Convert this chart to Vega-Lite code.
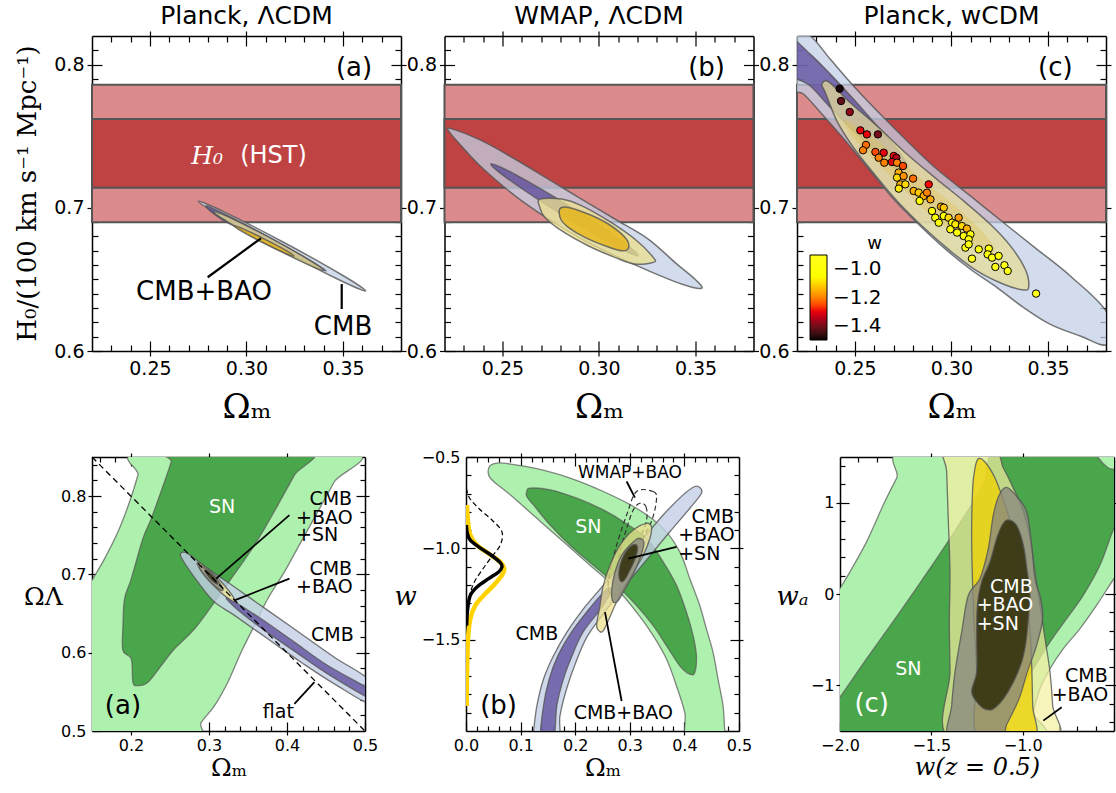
{
"$schema": "https://vega.github.io/schema/vega-lite/v6.json",
"background": "white",
"padding": {"left": 14, "top": 4, "right": 2, "bottom": 2},
"config": {
  "view": {"stroke": null},
  "font": "DejaVu Sans",
  "axis": {"grid": false, "tickColor": "black", "tickWidth": 1.2, "domainColor": "black", "domainWidth": 1.5, "labelColor": "black", "labelFont": "DejaVu Sans", "titleColor": "black", "titleFontWeight": "normal", "labelOverlap": false, "labelFlush": false, "zindex": 2},
  "title": {"font": "DejaVu Sans", "fontWeight": "normal", "color": "black"}
},
"datasets": {
  "bands": [{"k":"o","y":0.69,"y2":0.786},{"k":"i","y":0.714,"y2":0.762}],
  "rules": [
    {"p":"ta","k":"l","x":0.2799,"y":0.6515,"x2":0.3075,"y2":0.6787},
    {"p":"ta","k":"l","x":0.3493,"y":0.6293,"x2":0.3493,"y2":0.6468},
    {"p":"ba","k":"l","x":0.4031,"y":0.7757,"x2":0.3092,"y2":0.6946},
    {"p":"ba","k":"l","x":0.4031,"y":0.6946,"x2":0.3327,"y2":0.6669},
    {"p":"ba","k":"l","x":0.4095,"y":0.5346,"x2":0.4351,"y2":0.5623},
    {"p":"ba","k":"d","x":0.15,"y":0.85,"x2":0.5,"y2":0.5},
    {"p":"bb","k":"l","x":0.2942,"y":-0.634,"x2":0.3094,"y2":-0.722},
    {"p":"bb","k":"l","x":0.3855,"y":-0.9917,"x2":0.2972,"y2":-1.056},
    {"p":"bb","k":"l","x":0.285,"y":-1.8358,"x2":0.2546,"y2":-1.3495},
    {"p":"bc","k":"l","x":-0.8869,"y":-1.3864,"x2":-0.7865,"y2":-1.2399}
  ],
  "txt": [
    {"p":"ta","k":"lab","x":0.3557,"y":0.798,"t":"(a)"},
    {"p":"ta","k":"h0","x":0.2796,"y":0.7362,"t":"H₀"},
    {"p":"ta","k":"hst","x":0.314,"y":0.7362,"t":"(HST)"},
    {"p":"ta","k":"big","x":0.278,"y":0.641,"t":"CMB+BAO"},
    {"p":"ta","k":"big","x":0.35,"y":0.617,"t":"CMB"},
    {"p":"tb","k":"lab","x":0.3557,"y":0.798,"t":"(b)"},
    {"p":"tc","k":"lab","x":0.3538,"y":0.798,"t":"(c)"},
    {"p":"ba","k":"wC","x":0.3169,"y":0.7864,"t":"SN"},
    {"p":"ba","k":"annL","x":0.4287,"y":0.7958,"t":"CMB"},
    {"p":"ba","k":"annL","x":0.4116,"y":0.7727,"t":"+BAO"},
    {"p":"ba","k":"annL","x":0.4116,"y":0.7501,"t":"+SN"},
    {"p":"ba","k":"annL","x":0.4287,"y":0.7074,"t":"CMB"},
    {"p":"ba","k":"annL","x":0.4116,"y":0.684,"t":"+BAO"},
    {"p":"ba","k":"annL","x":0.4308,"y":0.6229,"t":"CMB"},
    {"p":"ba","k":"annL","x":0.369,"y":0.5248,"t":"flat"},
    {"p":"ba","k":"lab","x":0.1897,"y":0.5324,"t":"(a)"},
    {"p":"bb","k":"wC","x":0.2241,"y":-0.8817,"t":"SN"},
    {"p":"bb","k":"wm","x":0.3002,"y":-0.588,"t":"WMAP+BAO"},
    {"p":"bb","k":"annL","x":0.4129,"y":-0.8266,"t":"CMB"},
    {"p":"bb","k":"annL","x":0.3886,"y":-0.9275,"t":"+BAO"},
    {"p":"bb","k":"annL","x":0.3886,"y":-1.0284,"t":"+SN"},
    {"p":"bb","k":"annC","x":0.1297,"y":-1.4688,"t":"CMB"},
    {"p":"bb","k":"annC","x":0.2881,"y":-1.9,"t":"CMB+BAO"},
    {"p":"bb","k":"lab","x":0.0597,"y":-1.8633,"t":"(b)"},
    {"p":"bc","k":"wL","x":-1.1788,"y":0.0788,"t":"CMB"},
    {"p":"bc","k":"wL","x":-1.2518,"y":-0.1227,"t":"+BAO"},
    {"p":"bc","k":"wL","x":-1.2518,"y":-0.3242,"t":"+SN"},
    {"p":"bc","k":"wC","x":-1.6259,"y":-0.8187,"t":"SN"},
    {"p":"bc","k":"annL","x":-0.7682,"y":-0.8993,"t":"CMB"},
    {"p":"bc","k":"annL","x":-0.8412,"y":-1.1044,"t":"+BAO"},
    {"p":"bc","k":"labw","x":-1.8266,"y":-1.203,"t":"(c)"}
  ],
  "pts": [
    {"x":0.2421,"y":0.7832,"w":-1.49},{"x":0.2428,"y":0.7746,"w":-1.42},{"x":0.2473,"y":0.7669,"w":-1.38},{"x":0.2528,"y":0.7541,"w":-1.3},{"x":0.2562,"y":0.7513,"w":-1.3},
    {"x":0.2619,"y":0.7513,"w":-1.4},{"x":0.2557,"y":0.7439,"w":-1.22},{"x":0.2542,"y":0.7402,"w":-1.2},{"x":0.2606,"y":0.739,"w":-1.25},{"x":0.2649,"y":0.7385,"w":-1.3},
    {"x":0.2623,"y":0.735,"w":-1.2},{"x":0.2652,"y":0.7315,"w":-1.2},{"x":0.2701,"y":0.7362,"w":-1.28},{"x":0.2714,"y":0.735,"w":-1.35},{"x":0.2692,"y":0.732,"w":-1.3},
    {"x":0.2718,"y":0.7315,"w":-1.2},{"x":0.2749,"y":0.7292,"w":-1.25},{"x":0.2726,"y":0.7246,"w":-1.15},{"x":0.2718,"y":0.7211,"w":-1.1},{"x":0.2752,"y":0.7222,"w":-1.18},
    {"x":0.2735,"y":0.7164,"w":-1.15},{"x":0.2727,"y":0.7134,"w":-1.08},{"x":0.2761,"y":0.7164,"w":-1.1},{"x":0.2801,"y":0.7204,"w":-1.22},{"x":0.2804,"y":0.7118,"w":-1.15},
    {"x":0.283,"y":0.7106,"w":-1.12},{"x":0.2856,"y":0.7083,"w":-1.15},{"x":0.2835,"y":0.7048,"w":-1.05},{"x":0.2882,"y":0.7164,"w":-1.28},{"x":0.2873,"y":0.7106,"w":-1.2},
    {"x":0.2891,"y":0.7059,"w":-1.16},{"x":0.2899,"y":0.6978,"w":-1.02},{"x":0.2916,"y":0.6931,"w":-1.03},{"x":0.2934,"y":0.6896,"w":-1.0},{"x":0.2946,"y":0.7008,"w":-1.15},
    {"x":0.296,"y":0.7001,"w":-1.12},{"x":0.296,"y":0.6943,"w":-1.05},{"x":0.2985,"y":0.6931,"w":-1.1},{"x":0.3003,"y":0.6896,"w":-1.03},{"x":0.2994,"y":0.685,"w":-1.0},
    {"x":0.302,"y":0.6885,"w":-1.08},{"x":0.3037,"y":0.6931,"w":-1.17},{"x":0.3054,"y":0.6873,"w":-1.1},{"x":0.308,"y":0.6855,"w":-1.15},{"x":0.3029,"y":0.6827,"w":-1.02},
    {"x":0.3063,"y":0.6803,"w":-0.98},{"x":0.3098,"y":0.6815,"w":-1.03},{"x":0.3089,"y":0.678,"w":-1.0},{"x":0.3072,"y":0.6722,"w":-0.97},{"x":0.3089,"y":0.6745,"w":-0.94},
    {"x":0.3141,"y":0.671,"w":-0.97},{"x":0.3106,"y":0.6645,"w":-0.92},{"x":0.3193,"y":0.6715,"w":-1.02},{"x":0.3187,"y":0.6675,"w":-1.0},{"x":0.321,"y":0.6652,"w":-0.97},
    {"x":0.3244,"y":0.6664,"w":-1.03},{"x":0.3227,"y":0.6587,"w":-0.95},{"x":0.3274,"y":0.6599,"w":-0.95},{"x":0.3291,"y":0.6559,"w":-0.95},{"x":0.3438,"y":0.6401,"w":-0.92}
  ],
  "poly": [
    {"id":"ta_cmb2","i":0,"x":0.3617,"y":0.642},{"id":"ta_cmb2","i":1,"x":0.3497,"y":0.6529},{"id":"ta_cmb2","i":2,"x":0.3194,"y":0.6758},{"id":"ta_cmb2","i":3,"x":0.2884,"y":0.6972},{"id":"ta_cmb2","i":4,"x":0.275,"y":0.7046},{"id":"ta_cmb2","i":5,"x":0.2871,"y":0.6937},{"id":"ta_cmb2","i":6,"x":0.3174,"y":0.6709},{"id":"ta_cmb2","i":7,"x":0.3484,"y":0.6494},
    {"id":"ta_cmb1","i":0,"x":0.3412,"y":0.6559},{"id":"ta_cmb1","i":1,"x":0.3325,"y":0.6636},{"id":"ta_cmb1","i":2,"x":0.3107,"y":0.6801},{"id":"ta_cmb1","i":3,"x":0.2885,"y":0.6957},{"id":"ta_cmb1","i":4,"x":0.279,"y":0.7013},{"id":"ta_cmb1","i":5,"x":0.2877,"y":0.6915},{"id":"ta_cmb1","i":6,"x":0.3095,"y":0.6771},{"id":"ta_cmb1","i":7,"x":0.3317,"y":0.6615},
    {"id":"ta_cb2","i":0,"x":0.3396,"y":0.6566},{"id":"ta_cb2","i":1,"x":0.3319,"y":0.664},{"id":"ta_cb2","i":2,"x":0.3123,"y":0.679},{"id":"ta_cb2","i":3,"x":0.2921,"y":0.6927},{"id":"ta_cb2","i":4,"x":0.2832,"y":0.6971},{"id":"ta_cb2","i":5,"x":0.2909,"y":0.6896},{"id":"ta_cb2","i":6,"x":0.3106,"y":0.6746},{"id":"ta_cb2","i":7,"x":0.3308,"y":0.661},
    {"id":"ta_cb1","i":0,"x":0.3246,"y":0.6663},{"id":"ta_cb1","i":1,"x":0.3204,"y":0.6703},{"id":"ta_cb1","i":2,"x":0.3096,"y":0.678},{"id":"ta_cb1","i":3,"x":0.2985,"y":0.6851},{"id":"ta_cb1","i":4,"x":0.2935,"y":0.6873},{"id":"ta_cb1","i":5,"x":0.2978,"y":0.6834},{"id":"ta_cb1","i":6,"x":0.3086,"y":0.6756},{"id":"ta_cb1","i":7,"x":0.3197,"y":0.6685},
    {"id":"tb_cmb2","i":0,"x":0.2228,"y":0.7555},{"id":"tb_cmb2","i":1,"x":0.2392,"y":0.7469},{"id":"tb_cmb2","i":2,"x":0.2564,"y":0.7341},{"id":"tb_cmb2","i":3,"x":0.2737,"y":0.7201},{"id":"tb_cmb2","i":4,"x":0.2909,"y":0.7061},{"id":"tb_cmb2","i":5,"x":0.3082,"y":0.6922},{"id":"tb_cmb2","i":6,"x":0.3255,"y":0.6782},{"id":"tb_cmb2","i":7,"x":0.3393,"y":0.6619},{"id":"tb_cmb2","i":8,"x":0.3496,"y":0.6503},{"id":"tb_cmb2","i":9,"x":0.3531,"y":0.6438},{"id":"tb_cmb2","i":10,"x":0.3427,"y":0.6468},{"id":"tb_cmb2","i":11,"x":0.3255,"y":0.6561},{"id":"tb_cmb2","i":12,"x":0.3082,"y":0.6666},{"id":"tb_cmb2","i":13,"x":0.2909,"y":0.6782},{"id":"tb_cmb2","i":14,"x":0.2737,"y":0.6922},{"id":"tb_cmb2","i":15,"x":0.2564,"y":0.7085},{"id":"tb_cmb2","i":16,"x":0.2392,"y":0.7283},{"id":"tb_cmb2","i":17,"x":0.2271,"y":0.7457},{"id":"tb_cmb2","i":18,"x":0.2227,"y":0.7527},
    {"id":"tb_cmb1","i":0,"x":0.3203,"y":0.6666},{"id":"tb_cmb1","i":1,"x":0.3102,"y":0.6783},{"id":"tb_cmb1","i":2,"x":0.2837,"y":0.7019},{"id":"tb_cmb1","i":3,"x":0.2563,"y":0.7235},{"id":"tb_cmb1","i":4,"x":0.244,"y":0.7306},{"id":"tb_cmb1","i":5,"x":0.2542,"y":0.7189},{"id":"tb_cmb1","i":6,"x":0.2807,"y":0.6953},{"id":"tb_cmb1","i":7,"x":0.3081,"y":0.6737},
    {"id":"tb_cb2","i":0,"x":0.2694,"y":0.7061},{"id":"tb_cb2","i":1,"x":0.2806,"y":0.7061},{"id":"tb_cb2","i":2,"x":0.2909,"y":0.7015},{"id":"tb_cb2","i":3,"x":0.3048,"y":0.691},{"id":"tb_cb2","i":4,"x":0.3185,"y":0.6782},{"id":"tb_cb2","i":5,"x":0.3281,"y":0.6654},{"id":"tb_cb2","i":6,"x":0.3281,"y":0.6619},{"id":"tb_cb2","i":7,"x":0.3185,"y":0.6607},{"id":"tb_cb2","i":8,"x":0.3082,"y":0.6654},{"id":"tb_cb2","i":9,"x":0.2944,"y":0.6735},{"id":"tb_cb2","i":10,"x":0.2806,"y":0.684},{"id":"tb_cb2","i":11,"x":0.2719,"y":0.6934},{"id":"tb_cb2","i":12,"x":0.2694,"y":0.7003},
    {"id":"tb_cb1","i":0,"x":0.2797,"y":0.6992},{"id":"tb_cb1","i":1,"x":0.2841,"y":0.7003},{"id":"tb_cb1","i":2,"x":0.2944,"y":0.6957},{"id":"tb_cb1","i":3,"x":0.3048,"y":0.6887},{"id":"tb_cb1","i":4,"x":0.3134,"y":0.6794},{"id":"tb_cb1","i":5,"x":0.3154,"y":0.6724},{"id":"tb_cb1","i":6,"x":0.3117,"y":0.67},{"id":"tb_cb1","i":7,"x":0.3031,"y":0.6735},{"id":"tb_cb1","i":8,"x":0.2927,"y":0.6794},{"id":"tb_cb1","i":9,"x":0.2841,"y":0.6864},{"id":"tb_cb1","i":10,"x":0.2802,"y":0.6922},
    {"id":"tc_cmb2","i":0,"x":0.2165,"y":0.8247},{"id":"tc_cmb2","i":1,"x":0.2269,"y":0.82},{"id":"tc_cmb2","i":2,"x":0.2373,"y":0.8037},{"id":"tc_cmb2","i":3,"x":0.2493,"y":0.7851},{"id":"tc_cmb2","i":4,"x":0.2632,"y":0.7653},{"id":"tc_cmb2","i":5,"x":0.277,"y":0.7467},{"id":"tc_cmb2","i":6,"x":0.2925,"y":0.7269},{"id":"tc_cmb2","i":7,"x":0.3098,"y":0.7083},{"id":"tc_cmb2","i":8,"x":0.327,"y":0.6896},{"id":"tc_cmb2","i":9,"x":0.3443,"y":0.671},{"id":"tc_cmb2","i":10,"x":0.3615,"y":0.6524},{"id":"tc_cmb2","i":11,"x":0.3805,"y":0.6268},{"id":"tc_cmb2","i":12,"x":0.3805,"y":0.6047},{"id":"tc_cmb2","i":13,"x":0.3667,"y":0.6105},{"id":"tc_cmb2","i":14,"x":0.3512,"y":0.6186},{"id":"tc_cmb2","i":15,"x":0.3374,"y":0.6303},{"id":"tc_cmb2","i":16,"x":0.3236,"y":0.6443},{"id":"tc_cmb2","i":17,"x":0.3098,"y":0.6571},{"id":"tc_cmb2","i":18,"x":0.296,"y":0.6722},{"id":"tc_cmb2","i":19,"x":0.2821,"y":0.6896},{"id":"tc_cmb2","i":20,"x":0.2701,"y":0.7059},{"id":"tc_cmb2","i":21,"x":0.258,"y":0.7257},{"id":"tc_cmb2","i":22,"x":0.2459,"y":0.7455},{"id":"tc_cmb2","i":23,"x":0.2338,"y":0.7641},{"id":"tc_cmb2","i":24,"x":0.2235,"y":0.7793},{"id":"tc_cmb2","i":25,"x":0.2165,"y":0.7851},
    {"id":"tc_cmb1","i":0,"x":0.2165,"y":0.8177},{"id":"tc_cmb1","i":1,"x":0.2269,"y":0.8072},{"id":"tc_cmb1","i":2,"x":0.2373,"y":0.7932},{"id":"tc_cmb1","i":3,"x":0.2493,"y":0.7758},{"id":"tc_cmb1","i":4,"x":0.2614,"y":0.7572},{"id":"tc_cmb1","i":5,"x":0.2718,"y":0.7409},{"id":"tc_cmb1","i":6,"x":0.277,"y":0.7292},{"id":"tc_cmb1","i":7,"x":0.2718,"y":0.7269},{"id":"tc_cmb1","i":8,"x":0.2614,"y":0.7385},{"id":"tc_cmb1","i":9,"x":0.2493,"y":0.7537},{"id":"tc_cmb1","i":10,"x":0.2373,"y":0.77},{"id":"tc_cmb1","i":11,"x":0.2269,"y":0.7851},{"id":"tc_cmb1","i":12,"x":0.2165,"y":0.7944},
    {"id":"tc_cb2","i":0,"x":0.2329,"y":0.7862},{"id":"tc_cb2","i":1,"x":0.2364,"y":0.7879},{"id":"tc_cb2","i":2,"x":0.2476,"y":0.7734},{"id":"tc_cb2","i":3,"x":0.2614,"y":0.7572},{"id":"tc_cb2","i":4,"x":0.277,"y":0.7374},{"id":"tc_cb2","i":5,"x":0.2925,"y":0.7199},{"id":"tc_cb2","i":6,"x":0.3063,"y":0.7048},{"id":"tc_cb2","i":7,"x":0.3201,"y":0.6885},{"id":"tc_cb2","i":8,"x":0.3305,"y":0.6734},{"id":"tc_cb2","i":9,"x":0.3382,"y":0.6571},{"id":"tc_cb2","i":10,"x":0.34,"y":0.645},{"id":"tc_cb2","i":11,"x":0.3374,"y":0.6426},{"id":"tc_cb2","i":12,"x":0.327,"y":0.6466},{"id":"tc_cb2","i":13,"x":0.3132,"y":0.6559},{"id":"tc_cb2","i":14,"x":0.2994,"y":0.6699},{"id":"tc_cb2","i":15,"x":0.2856,"y":0.6862},{"id":"tc_cb2","i":16,"x":0.2718,"y":0.7048},{"id":"tc_cb2","i":17,"x":0.2597,"y":0.7241},{"id":"tc_cb2","i":18,"x":0.2493,"y":0.742},{"id":"tc_cb2","i":19,"x":0.2407,"y":0.7606},{"id":"tc_cb2","i":20,"x":0.2347,"y":0.7804},
    {"id":"tc_cb1","i":0,"x":0.2459,"y":0.7606},{"id":"tc_cb1","i":1,"x":0.2632,"y":0.7455},{"id":"tc_cb1","i":2,"x":0.2804,"y":0.7246},{"id":"tc_cb1","i":3,"x":0.2977,"y":0.7059},{"id":"tc_cb1","i":4,"x":0.3132,"y":0.6873},{"id":"tc_cb1","i":5,"x":0.3218,"y":0.6734},{"id":"tc_cb1","i":6,"x":0.3201,"y":0.6687},{"id":"tc_cb1","i":7,"x":0.3063,"y":0.678},{"id":"tc_cb1","i":8,"x":0.2925,"y":0.6908},{"id":"tc_cb1","i":9,"x":0.2787,"y":0.7083},{"id":"tc_cb1","i":10,"x":0.2649,"y":0.7269},{"id":"tc_cb1","i":11,"x":0.2528,"y":0.7432},{"id":"tc_cb1","i":12,"x":0.2459,"y":0.7548},
    {"id":"ba_sn2","i":0,"x":0.1193,"y":0.6391},{"id":"ba_sn2","i":1,"x":0.15,"y":0.6925},{"id":"ba_sn2","i":2,"x":0.1662,"y":0.7202},{"id":"ba_sn2","i":3,"x":0.1833,"y":0.7544},{"id":"ba_sn2","i":4,"x":0.1982,"y":0.7928},{"id":"ba_sn2","i":5,"x":0.2089,"y":0.8269},{"id":"ba_sn2","i":6,"x":0.2174,"y":0.8568},{"id":"ba_sn2","i":7,"x":0.4821,"y":0.8568},{"id":"ba_sn2","i":8,"x":0.4607,"y":0.8184},{"id":"ba_sn2","i":9,"x":0.4394,"y":0.78},{"id":"ba_sn2","i":10,"x":0.418,"y":0.7416},{"id":"ba_sn2","i":11,"x":0.3967,"y":0.7032},{"id":"ba_sn2","i":12,"x":0.3753,"y":0.669},{"id":"ba_sn2","i":13,"x":0.3583,"y":0.6349},{"id":"ba_sn2","i":14,"x":0.3412,"y":0.6007},{"id":"ba_sn2","i":15,"x":0.3241,"y":0.5623},{"id":"ba_sn2","i":16,"x":0.3071,"y":0.5324},{"id":"ba_sn2","i":17,"x":0.29,"y":0.5111},{"id":"ba_sn2","i":18,"x":0.2772,"y":0.4898},{"id":"ba_sn2","i":19,"x":0.1193,"y":0.4898},
    {"id":"ba_sn1","i":0,"x":0.2537,"y":0.8568},{"id":"ba_sn1","i":1,"x":0.4266,"y":0.8568},{"id":"ba_sn1","i":2,"x":0.4095,"y":0.8269},{"id":"ba_sn1","i":3,"x":0.3882,"y":0.7885},{"id":"ba_sn1","i":4,"x":0.3711,"y":0.7586},{"id":"ba_sn1","i":5,"x":0.3497,"y":0.7245},{"id":"ba_sn1","i":6,"x":0.3284,"y":0.6946},{"id":"ba_sn1","i":7,"x":0.3071,"y":0.6647},{"id":"ba_sn1","i":8,"x":0.2815,"y":0.6306},{"id":"ba_sn1","i":9,"x":0.2558,"y":0.605},{"id":"ba_sn1","i":10,"x":0.2388,"y":0.5837},{"id":"ba_sn1","i":11,"x":0.2217,"y":0.5623},{"id":"ba_sn1","i":12,"x":0.2089,"y":0.558},{"id":"ba_sn1","i":13,"x":0.2025,"y":0.5623},{"id":"ba_sn1","i":14,"x":0.2004,"y":0.5922},{"id":"ba_sn1","i":15,"x":0.1897,"y":0.6029},{"id":"ba_sn1","i":16,"x":0.1897,"y":0.6349},{"id":"ba_sn1","i":17,"x":0.1918,"y":0.669},{"id":"ba_sn1","i":18,"x":0.2004,"y":0.6946},{"id":"ba_sn1","i":19,"x":0.2153,"y":0.7458},{"id":"ba_sn1","i":20,"x":0.226,"y":0.7714},{"id":"ba_sn1","i":21,"x":0.243,"y":0.8184},{"id":"ba_sn1","i":22,"x":0.2516,"y":0.844},
    {"id":"ba_cmb2","i":0,"x":0.2635,"y":0.7266},{"id":"ba_cmb2","i":1,"x":0.2729,"y":0.7266},{"id":"ba_cmb2","i":2,"x":0.2985,"y":0.7074},{"id":"ba_cmb2","i":3,"x":0.3327,"y":0.684},{"id":"ba_cmb2","i":4,"x":0.3753,"y":0.6541},{"id":"ba_cmb2","i":5,"x":0.418,"y":0.6242},{"id":"ba_cmb2","i":6,"x":0.4607,"y":0.5943},{"id":"ba_cmb2","i":7,"x":0.5119,"y":0.5602},{"id":"ba_cmb2","i":8,"x":0.5119,"y":0.5324},{"id":"ba_cmb2","i":9,"x":0.4607,"y":0.5602},{"id":"ba_cmb2","i":10,"x":0.418,"y":0.5879},{"id":"ba_cmb2","i":11,"x":0.3753,"y":0.6178},{"id":"ba_cmb2","i":12,"x":0.3327,"y":0.6477},{"id":"ba_cmb2","i":13,"x":0.3071,"y":0.6647},{"id":"ba_cmb2","i":14,"x":0.2857,"y":0.6904},{"id":"ba_cmb2","i":15,"x":0.2665,"y":0.7181},
    {"id":"ba_cmb1","i":0,"x":0.3241,"y":0.6699},{"id":"ba_cmb1","i":1,"x":0.3668,"y":0.6434},{"id":"ba_cmb1","i":2,"x":0.4095,"y":0.6135},{"id":"ba_cmb1","i":3,"x":0.4522,"y":0.5837},{"id":"ba_cmb1","i":4,"x":0.5119,"y":0.5495},{"id":"ba_cmb1","i":5,"x":0.5119,"y":0.5388},{"id":"ba_cmb1","i":6,"x":0.4522,"y":0.573},{"id":"ba_cmb1","i":7,"x":0.4095,"y":0.602},{"id":"ba_cmb1","i":8,"x":0.3668,"y":0.6315},{"id":"ba_cmb1","i":9,"x":0.3327,"y":0.6583},
    {"id":"ba_cb2","i":0,"x":0.3327,"y":0.6656},{"id":"ba_cb2","i":1,"x":0.3283,"y":0.6754},{"id":"ba_cb2","i":2,"x":0.3125,"y":0.6939},{"id":"ba_cb2","i":3,"x":0.2945,"y":0.7104},{"id":"ba_cb2","i":4,"x":0.2849,"y":0.7152},{"id":"ba_cb2","i":5,"x":0.2893,"y":0.7054},{"id":"ba_cb2","i":6,"x":0.3051,"y":0.6869},{"id":"ba_cb2","i":7,"x":0.3231,"y":0.6704},
    {"id":"ba_cbs2","i":0,"x":0.3177,"y":0.6797},{"id":"ba_cbs2","i":1,"x":0.3155,"y":0.6864},{"id":"ba_cbs2","i":2,"x":0.3059,"y":0.6983},{"id":"ba_cbs2","i":3,"x":0.2944,"y":0.7084},{"id":"ba_cbs2","i":4,"x":0.2879,"y":0.7108},{"id":"ba_cbs2","i":5,"x":0.2901,"y":0.7042},{"id":"ba_cbs2","i":6,"x":0.2997,"y":0.6923},{"id":"ba_cbs2","i":7,"x":0.3112,"y":0.6822},
    {"id":"ba_cbs1","i":0,"x":0.3113,"y":0.6878},{"id":"ba_cbs1","i":1,"x":0.3102,"y":0.6917},{"id":"ba_cbs1","i":2,"x":0.305,"y":0.6984},{"id":"ba_cbs1","i":3,"x":0.2988,"y":0.704},{"id":"ba_cbs1","i":4,"x":0.2951,"y":0.7054},{"id":"ba_cbs1","i":5,"x":0.2962,"y":0.7015},{"id":"ba_cbs1","i":6,"x":0.3014,"y":0.6948},{"id":"ba_cbs1","i":7,"x":0.3076,"y":0.6892},
    {"id":"bb_sn2","i":0,"x":0.0414,"y":-0.5973},{"id":"bb_sn2","i":1,"x":0.0432,"y":-0.5514},{"id":"bb_sn2","i":2,"x":0.0566,"y":-0.533},{"id":"bb_sn2","i":3,"x":0.081,"y":-0.5385},{"id":"bb_sn2","i":4,"x":0.1297,"y":-0.5642},{"id":"bb_sn2","i":5,"x":0.1906,"y":-0.6156},{"id":"bb_sn2","i":6,"x":0.2515,"y":-0.689},{"id":"bb_sn2","i":7,"x":0.3124,"y":-0.7807},{"id":"bb_sn2","i":8,"x":0.3611,"y":-0.8908},{"id":"bb_sn2","i":9,"x":0.3916,"y":-1.0193},{"id":"bb_sn2","i":10,"x":0.4099,"y":-1.1661},{"id":"bb_sn2","i":11,"x":0.4281,"y":-1.3128},{"id":"bb_sn2","i":12,"x":0.4403,"y":-1.4413},{"id":"bb_sn2","i":13,"x":0.4525,"y":-1.5697},{"id":"bb_sn2","i":14,"x":0.4616,"y":-1.7165},{"id":"bb_sn2","i":15,"x":0.4708,"y":-1.8633},{"id":"bb_sn2","i":16,"x":0.4738,"y":-1.9917},{"id":"bb_sn2","i":17,"x":0.4769,"y":-2.0468},{"id":"bb_sn2","i":18,"x":0.4068,"y":-2.0468},{"id":"bb_sn2","i":19,"x":0.4007,"y":-1.9},{"id":"bb_sn2","i":20,"x":0.3855,"y":-1.7532},{"id":"bb_sn2","i":21,"x":0.3672,"y":-1.6064},{"id":"bb_sn2","i":22,"x":0.3429,"y":-1.478},{"id":"bb_sn2","i":23,"x":0.3124,"y":-1.3495},{"id":"bb_sn2","i":24,"x":0.2759,"y":-1.2211},{"id":"bb_sn2","i":25,"x":0.2272,"y":-1.0927},{"id":"bb_sn2","i":26,"x":0.1784,"y":-0.9642},{"id":"bb_sn2","i":27,"x":0.1297,"y":-0.8358},{"id":"bb_sn2","i":28,"x":0.081,"y":-0.7073},{"id":"bb_sn2","i":29,"x":0.0505,"y":-0.6339},
    {"id":"bb_sn1","i":0,"x":0.1114,"y":-0.689},{"id":"bb_sn1","i":1,"x":0.1175,"y":-0.6706},{"id":"bb_sn1","i":2,"x":0.1541,"y":-0.6798},{"id":"bb_sn1","i":3,"x":0.2028,"y":-0.7257},{"id":"bb_sn1","i":4,"x":0.2515,"y":-0.7899},{"id":"bb_sn1","i":5,"x":0.2881,"y":-0.8541},{"id":"bb_sn1","i":6,"x":0.3307,"y":-0.9459},{"id":"bb_sn1","i":7,"x":0.3611,"y":-1.0743},{"id":"bb_sn1","i":8,"x":0.3855,"y":-1.2028},{"id":"bb_sn1","i":9,"x":0.4038,"y":-1.3495},{"id":"bb_sn1","i":10,"x":0.416,"y":-1.478},{"id":"bb_sn1","i":11,"x":0.422,"y":-1.5881},{"id":"bb_sn1","i":12,"x":0.419,"y":-1.6798},{"id":"bb_sn1","i":13,"x":0.4099,"y":-1.689},{"id":"bb_sn1","i":14,"x":0.3916,"y":-1.6431},{"id":"bb_sn1","i":15,"x":0.3672,"y":-1.533},{"id":"bb_sn1","i":16,"x":0.3429,"y":-1.4229},{"id":"bb_sn1","i":17,"x":0.3124,"y":-1.3128},{"id":"bb_sn1","i":18,"x":0.2759,"y":-1.2028},{"id":"bb_sn1","i":19,"x":0.2333,"y":-1.0927},{"id":"bb_sn1","i":20,"x":0.1906,"y":-0.9826},{"id":"bb_sn1","i":21,"x":0.1541,"y":-0.8725},{"id":"bb_sn1","i":22,"x":0.1236,"y":-0.7624},{"id":"bb_sn1","i":23,"x":0.1114,"y":-0.7165},
    {"id":"bb_cmb2","i":0,"x":0.1206,"y":-2.0468},{"id":"bb_cmb2","i":1,"x":0.1236,"y":-2.0028},{"id":"bb_cmb2","i":2,"x":0.1297,"y":-1.8633},{"id":"bb_cmb2","i":3,"x":0.1419,"y":-1.7165},{"id":"bb_cmb2","i":4,"x":0.1602,"y":-1.5881},{"id":"bb_cmb2","i":5,"x":0.1845,"y":-1.4596},{"id":"bb_cmb2","i":6,"x":0.215,"y":-1.3312},{"id":"bb_cmb2","i":7,"x":0.2515,"y":-1.2028},{"id":"bb_cmb2","i":8,"x":0.2881,"y":-1.0743},{"id":"bb_cmb2","i":9,"x":0.3246,"y":-0.9459},{"id":"bb_cmb2","i":10,"x":0.3611,"y":-0.8174},{"id":"bb_cmb2","i":11,"x":0.3977,"y":-0.7073},{"id":"bb_cmb2","i":12,"x":0.419,"y":-0.6615},{"id":"bb_cmb2","i":13,"x":0.4281,"y":-0.667},{"id":"bb_cmb2","i":14,"x":0.4312,"y":-0.6982},{"id":"bb_cmb2","i":15,"x":0.4099,"y":-0.7807},{"id":"bb_cmb2","i":16,"x":0.3733,"y":-0.9092},{"id":"bb_cmb2","i":17,"x":0.3429,"y":-1.0193},{"id":"bb_cmb2","i":18,"x":0.3124,"y":-1.1294},{"id":"bb_cmb2","i":19,"x":0.282,"y":-1.2394},{"id":"bb_cmb2","i":20,"x":0.2515,"y":-1.3587},{"id":"bb_cmb2","i":21,"x":0.2211,"y":-1.4872},{"id":"bb_cmb2","i":22,"x":0.201,"y":-1.6248},{"id":"bb_cmb2","i":23,"x":0.184,"y":-1.7716},{"id":"bb_cmb2","i":24,"x":0.172,"y":-1.9183},{"id":"bb_cmb2","i":25,"x":0.168,"y":-2.0468},
    {"id":"bb_cmb1","i":0,"x":0.137,"y":-2.05},{"id":"bb_cmb1","i":1,"x":0.1419,"y":-1.863},{"id":"bb_cmb1","i":2,"x":0.152,"y":-1.72},{"id":"bb_cmb1","i":3,"x":0.168,"y":-1.59},{"id":"bb_cmb1","i":4,"x":0.193,"y":-1.46},{"id":"bb_cmb1","i":5,"x":0.226,"y":-1.33},{"id":"bb_cmb1","i":6,"x":0.252,"y":-1.24},{"id":"bb_cmb1","i":7,"x":0.262,"y":-1.215},{"id":"bb_cmb1","i":8,"x":0.266,"y":-1.235},{"id":"bb_cmb1","i":9,"x":0.247,"y":-1.33},{"id":"bb_cmb1","i":10,"x":0.214,"y":-1.46},{"id":"bb_cmb1","i":11,"x":0.194,"y":-1.59},{"id":"bb_cmb1","i":12,"x":0.178,"y":-1.72},{"id":"bb_cmb1","i":13,"x":0.1663,"y":-1.863},{"id":"bb_cmb1","i":14,"x":0.16,"y":-2.05},
    {"id":"bb_wb2","i":0,"x":0.3124,"y":-0.689},{"id":"bb_wb2","i":1,"x":0.3429,"y":-0.689},{"id":"bb_wb2","i":2,"x":0.349,"y":-0.7257},{"id":"bb_wb2","i":3,"x":0.3417,"y":-0.8358},{"id":"bb_wb2","i":4,"x":0.3246,"y":-0.9459},{"id":"bb_wb2","i":5,"x":0.3063,"y":-1.0743},{"id":"bb_wb2","i":6,"x":0.2881,"y":-1.1844},{"id":"bb_wb2","i":7,"x":0.2698,"y":-1.2578},{"id":"bb_wb2","i":8,"x":0.2607,"y":-1.2211},{"id":"bb_wb2","i":9,"x":0.2637,"y":-1.1294},{"id":"bb_wb2","i":10,"x":0.2759,"y":-0.9826},{"id":"bb_wb2","i":11,"x":0.2942,"y":-0.8174},
    {"id":"bb_wb1","i":0,"x":0.3185,"y":-0.7532},{"id":"bb_wb1","i":1,"x":0.3295,"y":-0.7716},{"id":"bb_wb1","i":2,"x":0.3307,"y":-0.845},{"id":"bb_wb1","i":3,"x":0.3185,"y":-0.9459},{"id":"bb_wb1","i":4,"x":0.3002,"y":-1.056},{"id":"bb_wb1","i":5,"x":0.285,"y":-1.1294},{"id":"bb_wb1","i":6,"x":0.2789,"y":-1.111},{"id":"bb_wb1","i":7,"x":0.282,"y":-1.0193},{"id":"bb_wb1","i":8,"x":0.2942,"y":-0.8908},{"id":"bb_wb1","i":9,"x":0.3063,"y":-0.7899},
    {"id":"bb_cb2","i":0,"x":0.2454,"y":-1.456},{"id":"bb_cb2","i":1,"x":0.2393,"y":-1.4229},{"id":"bb_cb2","i":2,"x":0.2454,"y":-1.3128},{"id":"bb_cb2","i":3,"x":0.2515,"y":-1.2028},{"id":"bb_cb2","i":4,"x":0.2637,"y":-1.0927},{"id":"bb_cb2","i":5,"x":0.282,"y":-0.9826},{"id":"bb_cb2","i":6,"x":0.3063,"y":-0.9},{"id":"bb_cb2","i":7,"x":0.3307,"y":-0.8633},{"id":"bb_cb2","i":8,"x":0.3398,"y":-0.8817},{"id":"bb_cb2","i":9,"x":0.3368,"y":-0.9459},{"id":"bb_cb2","i":10,"x":0.3246,"y":-1.0376},{"id":"bb_cb2","i":11,"x":0.3063,"y":-1.1294},{"id":"bb_cb2","i":12,"x":0.2881,"y":-1.2211},{"id":"bb_cb2","i":13,"x":0.2728,"y":-1.3128},{"id":"bb_cb2","i":14,"x":0.2607,"y":-1.3954},{"id":"bb_cb2","i":15,"x":0.2515,"y":-1.4505},
    {"id":"bb_cbs2","i":0,"x":0.2698,"y":-1.2945},{"id":"bb_cbs2","i":1,"x":0.2667,"y":-1.2394},{"id":"bb_cbs2","i":2,"x":0.2728,"y":-1.1294},{"id":"bb_cbs2","i":3,"x":0.285,"y":-1.0376},{"id":"bb_cbs2","i":4,"x":0.3002,"y":-0.9826},{"id":"bb_cbs2","i":5,"x":0.3155,"y":-0.9459},{"id":"bb_cbs2","i":6,"x":0.3258,"y":-0.9642},{"id":"bb_cbs2","i":7,"x":0.3216,"y":-1.0284},{"id":"bb_cbs2","i":8,"x":0.3124,"y":-1.1018},{"id":"bb_cbs2","i":9,"x":0.3002,"y":-1.1752},{"id":"bb_cbs2","i":10,"x":0.2881,"y":-1.2394},{"id":"bb_cbs2","i":11,"x":0.2789,"y":-1.2853},
    {"id":"bb_cbs1","i":0,"x":0.2832,"y":-1.1807},{"id":"bb_cbs1","i":1,"x":0.2801,"y":-1.1294},{"id":"bb_cbs1","i":2,"x":0.2862,"y":-1.056},{"id":"bb_cbs1","i":3,"x":0.2972,"y":-1.0009},{"id":"bb_cbs1","i":4,"x":0.3094,"y":-0.9789},{"id":"bb_cbs1","i":5,"x":0.3143,"y":-1.0009},{"id":"bb_cbs1","i":6,"x":0.3094,"y":-1.0596},{"id":"bb_cbs1","i":7,"x":0.3002,"y":-1.1202},{"id":"bb_cbs1","i":8,"x":0.2911,"y":-1.1697},
    {"id":"bb_py","i":0,"x":0.0018,"y":-0.7624},{"id":"bb_py","i":1,"x":0.0037,"y":-0.8541},{"id":"bb_py","i":2,"x":0.0079,"y":-0.9275},{"id":"bb_py","i":3,"x":0.0201,"y":-0.9826},{"id":"bb_py","i":4,"x":0.0414,"y":-1.0284},{"id":"bb_py","i":5,"x":0.0627,"y":-1.0743},{"id":"bb_py","i":6,"x":0.07,"y":-1.111},{"id":"bb_py","i":7,"x":0.0658,"y":-1.1477},{"id":"bb_py","i":8,"x":0.0505,"y":-1.2028},{"id":"bb_py","i":9,"x":0.0323,"y":-1.2578},{"id":"bb_py","i":10,"x":0.0171,"y":-1.3128},{"id":"bb_py","i":11,"x":0.0079,"y":-1.3862},{"id":"bb_py","i":12,"x":0.0037,"y":-1.4963},{"id":"bb_py","i":13,"x":0.0018,"y":-1.6798},{"id":"bb_py","i":14,"x":0.0012,"y":-1.8633},
    {"id":"bb_pk","i":0,"x":0.0006,"y":-0.8725},{"id":"bb_pk","i":1,"x":0.0024,"y":-0.9183},{"id":"bb_pk","i":2,"x":0.0079,"y":-0.955},{"id":"bb_pk","i":3,"x":0.0231,"y":-0.9917},{"id":"bb_pk","i":4,"x":0.0445,"y":-1.0339},{"id":"bb_pk","i":5,"x":0.0627,"y":-1.078},{"id":"bb_pk","i":6,"x":0.0658,"y":-1.1018},{"id":"bb_pk","i":7,"x":0.0597,"y":-1.1294},{"id":"bb_pk","i":8,"x":0.0414,"y":-1.1661},{"id":"bb_pk","i":9,"x":0.0201,"y":-1.2119},{"id":"bb_pk","i":10,"x":0.0079,"y":-1.2578},{"id":"bb_pk","i":11,"x":0.003,"y":-1.3312},{"id":"bb_pk","i":12,"x":0.0012,"y":-1.4229},
    {"id":"bb_pd","i":0,"x":0.0006,"y":-0.6706},{"id":"bb_pd","i":1,"x":0.0067,"y":-0.7257},{"id":"bb_pd","i":2,"x":0.0231,"y":-0.7807},{"id":"bb_pd","i":3,"x":0.0475,"y":-0.845},{"id":"bb_pd","i":4,"x":0.0658,"y":-0.9092},{"id":"bb_pd","i":5,"x":0.0627,"y":-0.9826},{"id":"bb_pd","i":6,"x":0.0445,"y":-1.056},{"id":"bb_pd","i":7,"x":0.0292,"y":-1.1202},{"id":"bb_pd","i":8,"x":0.0152,"y":-1.1844},{"id":"bb_pd","i":9,"x":0.0067,"y":-1.2578},{"id":"bb_pd","i":10,"x":0.0018,"y":-1.3495},
    {"id":"bc_sn2","i":0,"x":-2.1277,"y":-0.3425},{"id":"bc_sn2","i":1,"x":-2,"y":0.0604},{"id":"bc_sn2","i":2,"x":-1.9453,"y":0.2436},{"id":"bc_sn2","i":3,"x":-1.854,"y":0.5733},{"id":"bc_sn2","i":4,"x":-1.7628,"y":0.9762},{"id":"bc_sn2","i":5,"x":-1.6898,"y":1.2692},{"id":"bc_sn2","i":6,"x":-1.5985,"y":1.5989},{"id":"bc_sn2","i":7,"x":-0.4489,"y":1.5989},{"id":"bc_sn2","i":8,"x":-0.4489,"y":0.3168},{"id":"bc_sn2","i":9,"x":-0.5,"y":0.1703},{"id":"bc_sn2","i":10,"x":-0.5949,"y":-0.1227},{"id":"bc_sn2","i":11,"x":-0.6861,"y":-0.3791},{"id":"bc_sn2","i":12,"x":-0.7774,"y":-0.5989},{"id":"bc_sn2","i":13,"x":-0.8504,"y":-0.8187},{"id":"bc_sn2","i":14,"x":-0.9051,"y":-1.0385},{"id":"bc_sn2","i":15,"x":-0.9416,"y":-1.2949},{"id":"bc_sn2","i":16,"x":-0.9599,"y":-1.5879},{"id":"bc_sn2","i":17,"x":-2.1277,"y":-1.5879},
    {"id":"bc_sn1","i":0,"x":-2.1277,"y":-1.478},{"id":"bc_sn1","i":1,"x":-2,"y":-1.13},{"id":"bc_sn1","i":2,"x":-1.854,"y":-0.7088},{"id":"bc_sn1","i":3,"x":-1.6715,"y":-0.196},{"id":"bc_sn1","i":4,"x":-1.5073,"y":0.2802},{"id":"bc_sn1","i":5,"x":-1.3613,"y":0.7198},{"id":"bc_sn1","i":6,"x":-1.2153,"y":1.196},{"id":"bc_sn1","i":7,"x":-1.1241,"y":1.5989},{"id":"bc_sn1","i":8,"x":-0.6131,"y":1.5989},{"id":"bc_sn1","i":9,"x":-0.5857,"y":1.489},{"id":"bc_sn1","i":10,"x":-0.531,"y":1.3791},{"id":"bc_sn1","i":11,"x":-0.4489,"y":1.3059},{"id":"bc_sn1","i":12,"x":-0.4489,"y":0.8663},{"id":"bc_sn1","i":13,"x":-0.5,"y":0.7198},{"id":"bc_sn1","i":14,"x":-0.5766,"y":0.3168},{"id":"bc_sn1","i":15,"x":-0.6679,"y":-0.0128},{"id":"bc_sn1","i":16,"x":-0.7591,"y":-0.2692},{"id":"bc_sn1","i":17,"x":-0.8504,"y":-0.5256},{"id":"bc_sn1","i":18,"x":-0.9416,"y":-0.8187},{"id":"bc_sn1","i":19,"x":-1.0328,"y":-1.1117},{"id":"bc_sn1","i":20,"x":-1.1058,"y":-1.3315},{"id":"bc_sn1","i":21,"x":-1.1606,"y":-1.5879},{"id":"bc_sn1","i":22,"x":-2.1277,"y":-1.5879},
    {"id":"bc_cb2","i":0,"x":-1.4197,"y":1.5623},{"id":"bc_cb2","i":1,"x":-1.4161,"y":1.3425},{"id":"bc_cb2","i":2,"x":-1.4069,"y":0.793},{"id":"bc_cb2","i":3,"x":-1.3978,"y":0.2436},{"id":"bc_cb2","i":4,"x":-1.4015,"y":-0.3059},{"id":"bc_cb2","i":5,"x":-1.3978,"y":-0.8553},{"id":"bc_cb2","i":6,"x":-1.3978,"y":-1.5879},{"id":"bc_cb2","i":7,"x":-0.8321,"y":-1.5879},{"id":"bc_cb2","i":8,"x":-0.8358,"y":-1.2216},{"id":"bc_cb2","i":9,"x":-0.8504,"y":-0.8553},{"id":"bc_cb2","i":10,"x":-0.8777,"y":-0.489},{"id":"bc_cb2","i":11,"x":-0.9051,"y":-0.1227},{"id":"bc_cb2","i":12,"x":-0.9325,"y":0.2436},{"id":"bc_cb2","i":13,"x":-0.9599,"y":0.6099},{"id":"bc_cb2","i":14,"x":-0.9964,"y":0.9029},{"id":"bc_cb2","i":15,"x":-1.0511,"y":1.1593},{"id":"bc_cb2","i":16,"x":-1.1058,"y":1.3791},{"id":"bc_cb2","i":17,"x":-1.1606,"y":1.5623},
    {"id":"bc_cb1","i":0,"x":-1.2427,"y":1.4817},{"id":"bc_cb1","i":1,"x":-1.2062,"y":1.4451},{"id":"bc_cb1","i":2,"x":-1.1515,"y":1.2692},{"id":"bc_cb1","i":3,"x":-1.0967,"y":0.9762},{"id":"bc_cb1","i":4,"x":-1.042,"y":0.6099},{"id":"bc_cb1","i":5,"x":-0.9964,"y":0.1703},{"id":"bc_cb1","i":6,"x":-0.9635,"y":-0.3059},{"id":"bc_cb1","i":7,"x":-0.9507,"y":-0.7821},{"id":"bc_cb1","i":8,"x":-0.9453,"y":-1.2216},{"id":"bc_cb1","i":9,"x":-0.9416,"y":-1.5879},{"id":"bc_cb1","i":10,"x":-1.2427,"y":-1.5879},{"id":"bc_cb1","i":11,"x":-1.2518,"y":-0.8553},{"id":"bc_cb1","i":12,"x":-1.2701,"y":-0.1227},{"id":"bc_cb1","i":13,"x":-1.2792,"y":0.6099},{"id":"bc_cb1","i":14,"x":-1.2737,"y":1.1593},{"id":"bc_cb1","i":15,"x":-1.2609,"y":1.3791},
    {"id":"bc_cbs2","i":0,"x":-1.0876,"y":1.1667},{"id":"bc_cbs2","i":1,"x":-1.0328,"y":1.0678},{"id":"bc_cbs2","i":2,"x":-0.9781,"y":0.9029},{"id":"bc_cbs2","i":3,"x":-0.9507,"y":0.5366},{"id":"bc_cbs2","i":4,"x":-0.9325,"y":0.1703},{"id":"bc_cbs2","i":5,"x":-0.9015,"y":-0.0495},{"id":"bc_cbs2","i":6,"x":-0.8905,"y":-0.2692},{"id":"bc_cbs2","i":7,"x":-0.9234,"y":-0.5623},{"id":"bc_cbs2","i":8,"x":-0.975,"y":-0.8553},{"id":"bc_cbs2","i":9,"x":-1.02,"y":-1.1484},{"id":"bc_cbs2","i":10,"x":-1.09,"y":-1.4414},{"id":"bc_cbs2","i":11,"x":-1.12,"y":-1.5879},{"id":"bc_cbs2","i":12,"x":-1.3978,"y":-1.5879},{"id":"bc_cbs2","i":13,"x":-1.3887,"y":-1.2216},{"id":"bc_cbs2","i":14,"x":-1.3704,"y":-0.8553},{"id":"bc_cbs2","i":15,"x":-1.3339,"y":-0.4158},{"id":"bc_cbs2","i":16,"x":-1.2974,"y":-0.0128},{"id":"bc_cbs2","i":17,"x":-1.2336,"y":0.1703},{"id":"bc_cbs2","i":18,"x":-1.188,"y":0.5},{"id":"bc_cbs2","i":19,"x":-1.1606,"y":0.8663},{"id":"bc_cbs2","i":20,"x":-1.1277,"y":1.0861},
    {"id":"bc_cbs1","i":0,"x":-1.0785,"y":0.8114},{"id":"bc_cbs1","i":1,"x":-1.0328,"y":0.7491},{"id":"bc_cbs1","i":2,"x":-0.9964,"y":0.5366},{"id":"bc_cbs1","i":3,"x":-0.9745,"y":0.2436},{"id":"bc_cbs1","i":4,"x":-0.9599,"y":-0.0128},{"id":"bc_cbs1","i":5,"x":-0.969,"y":-0.2692},{"id":"bc_cbs1","i":6,"x":-0.9818,"y":-0.5256},{"id":"bc_cbs1","i":7,"x":-1.0055,"y":-0.7454},{"id":"bc_cbs1","i":8,"x":-1.0511,"y":-0.9652},{"id":"bc_cbs1","i":9,"x":-1.1058,"y":-1.1484},{"id":"bc_cbs1","i":10,"x":-1.1606,"y":-1.2582},{"id":"bc_cbs1","i":11,"x":-1.1971,"y":-1.2656},{"id":"bc_cbs1","i":12,"x":-1.2336,"y":-1.2216},{"id":"bc_cbs1","i":13,"x":-1.2792,"y":-1.0751},{"id":"bc_cbs1","i":14,"x":-1.2518,"y":-0.8553},{"id":"bc_cbs1","i":15,"x":-1.2518,"y":-0.489},{"id":"bc_cbs1","i":16,"x":-1.2482,"y":-0.1227},{"id":"bc_cbs1","i":17,"x":-1.2245,"y":0.1337},{"id":"bc_cbs1","i":18,"x":-1.1788,"y":0.3535},{"id":"bc_cbs1","i":19,"x":-1.1423,"y":0.6099},{"id":"bc_cbs1","i":20,"x":-1.1095,"y":0.7637}
  ]
},
"spacing": 421,
"bounds": "flush",
"vconcat": [
 {"hconcat": [
  {"width":309,"height":315,
   "title":{"text":"Planck, ΛCDM","fontSize":25,"offset":12,"dy":31,"frame":"group","baseline":"alphabetic"},
   "data":{"name":"poly"},
   "resolve":{"axis":{"x":"independent","y":"independent"}},
   "layer":[
    {"data":{"name":"bands"},"transform":[{"filter":"datum.k==='o'"}],"mark":{"type":"rect","fill":"#db8b8b","stroke":"#555555","strokeWidth":2},"encoding":{"x":{"datum":0.22,"type":"quantitative","scale":{"domain":[0.22,0.38],"nice":false,"zero":false},"axis":{"orient":"bottom","values":[0.25,0.3,0.35],"tickSize":5,"labels":false,"domain":false,"title":null}},"x2":{"datum":0.38},"y":{"field":"y","type":"quantitative","scale":{"domain":[0.6,0.82],"nice":false,"zero":false},"axis":{"orient":"left","values":[0.6,0.7,0.8],"tickSize":5,"labels":false,"domain":false,"title":null}},"y2":{"field":"y2"}}},
    {"data":{"name":"bands"},"transform":[{"filter":"datum.k==='i'"}],"mark":{"type":"rect","fill":"#c04343","stroke":"#555555","strokeWidth":2},"encoding":{"x":{"datum":0.22,"type":"quantitative","scale":{"domain":[0.22,0.38],"nice":false,"zero":false},"axis":{"orient":"top","values":[0.25,0.3,0.35],"tickSize":5,"labels":false,"domain":false,"title":null}},"x2":{"datum":0.38},"y":{"field":"y","type":"quantitative","scale":{"domain":[0.6,0.82],"nice":false,"zero":false},"axis":{"orient":"right","values":[0.6,0.7,0.8],"tickSize":5,"labels":false,"domain":false,"title":null}},"y2":{"field":"y2"}}},
    {"transform":[{"filter":"datum.id==='ta_cmb2'"}],"mark":{"type":"line","interpolate":"cardinal-closed","fill":"#c3d0e6","fillOpacity":0.75,"stroke":"#555555","strokeOpacity":0.8,"strokeWidth":1.5,"clip":true},
     "encoding":{"x":{"field":"x","type":"quantitative","scale":{"domain":[0.22,0.38],"nice":false,"zero":false},"axis":{"orient":"bottom","values":[0.25,0.3,0.35],"format":".2f","tickSize":-10,"labelPadding":18,"labelFontSize":19,"domain":true,"title":"Ωₘ","titleFont":"DejaVu Serif","titleFontSize":34,"titleY":56,"titleBaseline":"middle"}},
      "y":{"field":"y","type":"quantitative","scale":{"domain":[0.6,0.82],"nice":false,"zero":false},"axis":{"orient":"left","values":[0.6,0.7,0.8],"format":".1f","tickSize":-10,"labelPadding":18,"labelFontSize":19,"domain":true,"title":"H₀/(100 km s⁻¹ Mpc⁻¹)","titleFont":"DejaVu Serif","titleFontSize":26,"titleX":-65,"titleY":157,"titleAngle":-90,"titleAlign":"center","titleBaseline":"middle"}},
      "order":{"field":"i","type":"quantitative"}}},
    {"transform":[{"filter":"datum.id==='ta_cmb1'"}],"mark":{"type":"line","interpolate":"cardinal-closed","fill":"#5a4899","fillOpacity":0.75,"stroke":"#555555","strokeOpacity":0.8,"strokeWidth":1.5,"clip":true},
     "encoding":{"x":{"field":"x","type":"quantitative","scale":{"domain":[0.22,0.38],"nice":false,"zero":false},"axis":{"orient":"bottom","values":[0.23,0.24,0.26,0.27,0.28,0.29,0.31,0.32,0.33,0.34,0.36,0.37],"tickSize":-6,"labels":false,"domain":false,"title":null}},
      "y":{"field":"y","type":"quantitative","scale":{"domain":[0.6,0.82],"nice":false,"zero":false},"axis":{"orient":"left","values":[0.61,0.62,0.63,0.64,0.65,0.66,0.67,0.68,0.69,0.71,0.72,0.73,0.74,0.75,0.76,0.77,0.78,0.79,0.81],"tickSize":-6,"labels":false,"domain":false,"title":null}},
      "order":{"field":"i","type":"quantitative"}}},
    {"transform":[{"filter":"datum.id==='ta_cb2'"}],"mark":{"type":"line","interpolate":"cardinal-closed","fill":"#ece08e","fillOpacity":0.75,"stroke":"#555555","strokeOpacity":0.8,"strokeWidth":1.5,"clip":true},
     "encoding":{"x":{"field":"x","type":"quantitative","scale":{"domain":[0.22,0.38],"nice":false,"zero":false},"axis":{"orient":"top","values":[0.25,0.3,0.35],"tickSize":-10,"labels":false,"domain":true,"title":null}},
      "y":{"field":"y","type":"quantitative","scale":{"domain":[0.6,0.82],"nice":false,"zero":false},"axis":{"orient":"right","values":[0.6,0.7,0.8],"tickSize":-10,"labels":false,"domain":true,"title":null}},
      "order":{"field":"i","type":"quantitative"}}},
    {"transform":[{"filter":"datum.id==='ta_cb1'"}],"mark":{"type":"line","interpolate":"cardinal-closed","fill":"#e8b715","fillOpacity":0.8,"stroke":"#555555","strokeOpacity":0.8,"strokeWidth":1.5,"clip":true},
     "encoding":{"x":{"field":"x","type":"quantitative","scale":{"domain":[0.22,0.38],"nice":false,"zero":false},"axis":{"orient":"top","values":[0.23,0.24,0.26,0.27,0.28,0.29,0.31,0.32,0.33,0.34,0.36,0.37],"tickSize":-6,"labels":false,"domain":false,"title":null}},
      "y":{"field":"y","type":"quantitative","scale":{"domain":[0.6,0.82],"nice":false,"zero":false},"axis":{"orient":"right","values":[0.61,0.62,0.63,0.64,0.65,0.66,0.67,0.68,0.69,0.71,0.72,0.73,0.74,0.75,0.76,0.77,0.78,0.79,0.81],"tickSize":-6,"labels":false,"domain":false,"title":null}},
      "order":{"field":"i","type":"quantitative"}}},
    {"data":{"name":"rules"},"transform":[{"filter":"datum.p==='ta'"}],"mark":{"type":"rule","color":"black","strokeWidth":2.2},"encoding":{"x":{"field":"x","type":"quantitative","scale":{"domain":[0.22,0.38],"nice":false,"zero":false},"axis":null},"y":{"field":"y","type":"quantitative","scale":{"domain":[0.6,0.82],"nice":false,"zero":false},"axis":null},"x2":{"field":"x2"},"y2":{"field":"y2"}}},
    {"data":{"name":"txt"},"transform":[{"filter":"datum.p==='ta' && datum.k==='lab'"}],"mark":{"type":"text","fontSize":26,"align":"center","baseline":"middle","color":"black"},"encoding":{"x":{"field":"x","type":"quantitative","scale":{"domain":[0.22,0.38],"nice":false,"zero":false},"axis":null},"y":{"field":"y","type":"quantitative","scale":{"domain":[0.6,0.82],"nice":false,"zero":false},"axis":null},"text":{"field":"t","type":"nominal"}}},
    {"data":{"name":"txt"},"transform":[{"filter":"datum.p==='ta' && datum.k==='big'"}],"mark":{"type":"text","fontSize":26,"align":"center","baseline":"middle","color":"black"},"encoding":{"x":{"field":"x","type":"quantitative","scale":{"domain":[0.22,0.38],"nice":false,"zero":false},"axis":null},"y":{"field":"y","type":"quantitative","scale":{"domain":[0.6,0.82],"nice":false,"zero":false},"axis":null},"text":{"field":"t","type":"nominal"}}},
    {"data":{"name":"txt"},"transform":[{"filter":"datum.p==='ta' && datum.k==='h0'"}],"mark":{"type":"text","fontSize":25,"font":"DejaVu Serif","fontStyle":"italic","align":"center","baseline":"middle","color":"white"},"encoding":{"x":{"field":"x","type":"quantitative","scale":{"domain":[0.22,0.38],"nice":false,"zero":false},"axis":null},"y":{"field":"y","type":"quantitative","scale":{"domain":[0.6,0.82],"nice":false,"zero":false},"axis":null},"text":{"field":"t","type":"nominal"}}},
    {"data":{"name":"txt"},"transform":[{"filter":"datum.p==='ta' && datum.k==='hst'"}],"mark":{"type":"text","fontSize":24,"align":"center","baseline":"middle","color":"white"},"encoding":{"x":{"field":"x","type":"quantitative","scale":{"domain":[0.22,0.38],"nice":false,"zero":false},"axis":null},"y":{"field":"y","type":"quantitative","scale":{"domain":[0.6,0.82],"nice":false,"zero":false},"axis":null},"text":{"field":"t","type":"nominal"}}}
   ]},
  {"width":309,"height":315,
   "title":{"text":"WMAP, ΛCDM","fontSize":25,"offset":12,"dy":31,"frame":"group","baseline":"alphabetic"},
   "data":{"name":"poly"},
   "resolve":{"axis":{"x":"independent","y":"independent"}},
   "layer":[
    {"data":{"name":"bands"},"transform":[{"filter":"datum.k==='o'"}],"mark":{"type":"rect","fill":"#db8b8b","stroke":"#555555","strokeWidth":2},"encoding":{"x":{"datum":0.22,"type":"quantitative","scale":{"domain":[0.22,0.38],"nice":false,"zero":false},"axis":{"orient":"bottom","values":[0.25,0.3,0.35],"tickSize":5,"labels":false,"domain":false,"title":null}},"x2":{"datum":0.38},"y":{"field":"y","type":"quantitative","scale":{"domain":[0.6,0.82],"nice":false,"zero":false},"axis":{"orient":"left","values":[0.6,0.7,0.8],"tickSize":5,"labels":false,"domain":false,"title":null}},"y2":{"field":"y2"}}},
    {"data":{"name":"bands"},"transform":[{"filter":"datum.k==='i'"}],"mark":{"type":"rect","fill":"#c04343","stroke":"#555555","strokeWidth":2},"encoding":{"x":{"datum":0.22,"type":"quantitative","scale":{"domain":[0.22,0.38],"nice":false,"zero":false},"axis":{"orient":"top","values":[0.25,0.3,0.35],"tickSize":5,"labels":false,"domain":false,"title":null}},"x2":{"datum":0.38},"y":{"field":"y","type":"quantitative","scale":{"domain":[0.6,0.82],"nice":false,"zero":false},"axis":{"orient":"right","values":[0.6,0.7,0.8],"tickSize":5,"labels":false,"domain":false,"title":null}},"y2":{"field":"y2"}}},
    {"transform":[{"filter":"datum.id==='tb_cmb2'"}],"mark":{"type":"line","interpolate":"cardinal-closed","fill":"#c3d0e6","fillOpacity":0.75,"stroke":"#555555","strokeOpacity":0.8,"strokeWidth":1.5,"clip":true},
     "encoding":{"x":{"field":"x","type":"quantitative","scale":{"domain":[0.22,0.38],"nice":false,"zero":false},"axis":{"orient":"bottom","values":[0.25,0.3,0.35],"format":".2f","tickSize":-10,"labelPadding":18,"labelFontSize":19,"domain":true,"title":"Ωₘ","titleFont":"DejaVu Serif","titleFontSize":34,"titleY":56,"titleBaseline":"middle"}},
      "y":{"field":"y","type":"quantitative","scale":{"domain":[0.6,0.82],"nice":false,"zero":false},"axis":{"orient":"left","values":[0.6,0.7,0.8],"format":".1f","tickSize":-10,"labelPadding":18,"labelFontSize":19,"domain":true,"title":null}},
      "order":{"field":"i","type":"quantitative"}}},
    {"transform":[{"filter":"datum.id==='tb_cmb1'"}],"mark":{"type":"line","interpolate":"cardinal-closed","fill":"#5a4899","fillOpacity":0.75,"stroke":"#555555","strokeOpacity":0.8,"strokeWidth":1.5,"clip":true},
     "encoding":{"x":{"field":"x","type":"quantitative","scale":{"domain":[0.22,0.38],"nice":false,"zero":false},"axis":{"orient":"bottom","values":[0.23,0.24,0.26,0.27,0.28,0.29,0.31,0.32,0.33,0.34,0.36,0.37],"tickSize":-6,"labels":false,"domain":false,"title":null}},
      "y":{"field":"y","type":"quantitative","scale":{"domain":[0.6,0.82],"nice":false,"zero":false},"axis":{"orient":"left","values":[0.61,0.62,0.63,0.64,0.65,0.66,0.67,0.68,0.69,0.71,0.72,0.73,0.74,0.75,0.76,0.77,0.78,0.79,0.81],"tickSize":-6,"labels":false,"domain":false,"title":null}},
      "order":{"field":"i","type":"quantitative"}}},
    {"transform":[{"filter":"datum.id==='tb_cb2'"}],"mark":{"type":"line","interpolate":"cardinal-closed","fill":"#ece08e","fillOpacity":0.75,"stroke":"#555555","strokeOpacity":0.8,"strokeWidth":1.5,"clip":true},
     "encoding":{"x":{"field":"x","type":"quantitative","scale":{"domain":[0.22,0.38],"nice":false,"zero":false},"axis":{"orient":"top","values":[0.25,0.3,0.35],"tickSize":-10,"labels":false,"domain":true,"title":null}},
      "y":{"field":"y","type":"quantitative","scale":{"domain":[0.6,0.82],"nice":false,"zero":false},"axis":{"orient":"right","values":[0.6,0.7,0.8],"tickSize":-10,"labels":false,"domain":true,"title":null}},
      "order":{"field":"i","type":"quantitative"}}},
    {"transform":[{"filter":"datum.id==='tb_cb1'"}],"mark":{"type":"line","interpolate":"cardinal-closed","fill":"#e8b715","fillOpacity":0.8,"stroke":"#555555","strokeOpacity":0.8,"strokeWidth":1.5,"clip":true},
     "encoding":{"x":{"field":"x","type":"quantitative","scale":{"domain":[0.22,0.38],"nice":false,"zero":false},"axis":{"orient":"top","values":[0.23,0.24,0.26,0.27,0.28,0.29,0.31,0.32,0.33,0.34,0.36,0.37],"tickSize":-6,"labels":false,"domain":false,"title":null}},
      "y":{"field":"y","type":"quantitative","scale":{"domain":[0.6,0.82],"nice":false,"zero":false},"axis":{"orient":"right","values":[0.61,0.62,0.63,0.64,0.65,0.66,0.67,0.68,0.69,0.71,0.72,0.73,0.74,0.75,0.76,0.77,0.78,0.79,0.81],"tickSize":-6,"labels":false,"domain":false,"title":null}},
      "order":{"field":"i","type":"quantitative"}}},
    {"data":{"name":"txt"},"transform":[{"filter":"datum.p==='tb' && datum.k==='lab'"}],"mark":{"type":"text","fontSize":26,"align":"center","baseline":"middle","color":"black"},"encoding":{"x":{"field":"x","type":"quantitative","scale":{"domain":[0.22,0.38],"nice":false,"zero":false},"axis":null},"y":{"field":"y","type":"quantitative","scale":{"domain":[0.6,0.82],"nice":false,"zero":false},"axis":null},"text":{"field":"t","type":"nominal"}}}
   ]},
  {"width":309,"height":315,
   "title":{"text":"Planck, wCDM","fontSize":25,"offset":12,"dy":31,"frame":"group","baseline":"alphabetic"},
   "data":{"name":"poly"},
   "resolve":{"axis":{"x":"independent","y":"independent"}},
   "layer":[
    {"data":{"name":"bands"},"transform":[{"filter":"datum.k==='o'"}],"mark":{"type":"rect","fill":"#db8b8b","stroke":"#555555","strokeWidth":2},"encoding":{"x":{"datum":0.22,"type":"quantitative","scale":{"domain":[0.22,0.38],"nice":false,"zero":false},"axis":{"orient":"bottom","values":[0.25,0.3,0.35],"tickSize":5,"labels":false,"domain":false,"title":null}},"x2":{"datum":0.38},"y":{"field":"y","type":"quantitative","scale":{"domain":[0.6,0.82],"nice":false,"zero":false},"axis":{"orient":"left","values":[0.6,0.7,0.8],"tickSize":5,"labels":false,"domain":false,"title":null}},"y2":{"field":"y2"}}},
    {"data":{"name":"bands"},"transform":[{"filter":"datum.k==='i'"}],"mark":{"type":"rect","fill":"#c04343","stroke":"#555555","strokeWidth":2},"encoding":{"x":{"datum":0.22,"type":"quantitative","scale":{"domain":[0.22,0.38],"nice":false,"zero":false},"axis":{"orient":"top","values":[0.25,0.3,0.35],"tickSize":5,"labels":false,"domain":false,"title":null}},"x2":{"datum":0.38},"y":{"field":"y","type":"quantitative","scale":{"domain":[0.6,0.82],"nice":false,"zero":false},"axis":{"orient":"right","values":[0.6,0.7,0.8],"tickSize":5,"labels":false,"domain":false,"title":null}},"y2":{"field":"y2"}}},
    {"transform":[{"filter":"datum.id==='tc_cmb2'"}],"mark":{"type":"line","interpolate":"cardinal-closed","fill":"#c3d0e6","fillOpacity":0.75,"stroke":"#555555","strokeOpacity":0.8,"strokeWidth":1.5,"clip":true},
     "encoding":{"x":{"field":"x","type":"quantitative","scale":{"domain":[0.22,0.38],"nice":false,"zero":false},"axis":{"orient":"bottom","values":[0.25,0.3,0.35],"format":".2f","tickSize":-10,"labelPadding":18,"labelFontSize":19,"domain":true,"title":"Ωₘ","titleFont":"DejaVu Serif","titleFontSize":34,"titleY":56,"titleBaseline":"middle"}},
      "y":{"field":"y","type":"quantitative","scale":{"domain":[0.6,0.82],"nice":false,"zero":false},"axis":{"orient":"left","values":[0.6,0.7,0.8],"format":".1f","tickSize":-10,"labelPadding":18,"labelFontSize":19,"domain":true,"title":null}},
      "order":{"field":"i","type":"quantitative"}}},
    {"transform":[{"filter":"datum.id==='tc_cmb1'"}],"mark":{"type":"line","interpolate":"cardinal-closed","fill":"#5a4899","fillOpacity":0.75,"stroke":"#555555","strokeOpacity":0.8,"strokeWidth":1.5,"clip":true},
     "encoding":{"x":{"field":"x","type":"quantitative","scale":{"domain":[0.22,0.38],"nice":false,"zero":false},"axis":{"orient":"bottom","values":[0.23,0.24,0.26,0.27,0.28,0.29,0.31,0.32,0.33,0.34,0.36,0.37],"tickSize":-6,"labels":false,"domain":false,"title":null}},
      "y":{"field":"y","type":"quantitative","scale":{"domain":[0.6,0.82],"nice":false,"zero":false},"axis":{"orient":"left","values":[0.61,0.62,0.63,0.64,0.65,0.66,0.67,0.68,0.69,0.71,0.72,0.73,0.74,0.75,0.76,0.77,0.78,0.79,0.81],"tickSize":-6,"labels":false,"domain":false,"title":null}},
      "order":{"field":"i","type":"quantitative"}}},
    {"transform":[{"filter":"datum.id==='tc_cb2'"}],"mark":{"type":"line","interpolate":"cardinal-closed","fill":"#e6dc9a","fillOpacity":0.75,"stroke":"#555555","strokeOpacity":0.8,"strokeWidth":1.5,"clip":true},
     "encoding":{"x":{"field":"x","type":"quantitative","scale":{"domain":[0.22,0.38],"nice":false,"zero":false},"axis":{"orient":"top","values":[0.25,0.3,0.35],"tickSize":-10,"labels":false,"domain":true,"title":null}},
      "y":{"field":"y","type":"quantitative","scale":{"domain":[0.6,0.82],"nice":false,"zero":false},"axis":{"orient":"right","values":[0.6,0.7,0.8],"tickSize":-10,"labels":false,"domain":true,"title":null}},
      "order":{"field":"i","type":"quantitative"}}},
    {"transform":[{"filter":"datum.id==='tc_cb1'"}],"mark":{"type":"line","interpolate":"cardinal-closed","fill":"#e0c050","fillOpacity":0.35,"stroke":"#555555","strokeOpacity":0.0,"strokeWidth":1,"clip":true},
     "encoding":{"x":{"field":"x","type":"quantitative","scale":{"domain":[0.22,0.38],"nice":false,"zero":false},"axis":{"orient":"top","values":[0.23,0.24,0.26,0.27,0.28,0.29,0.31,0.32,0.33,0.34,0.36,0.37],"tickSize":-6,"labels":false,"domain":false,"title":null}},
      "y":{"field":"y","type":"quantitative","scale":{"domain":[0.6,0.82],"nice":false,"zero":false},"axis":{"orient":"right","values":[0.61,0.62,0.63,0.64,0.65,0.66,0.67,0.68,0.69,0.71,0.72,0.73,0.74,0.75,0.76,0.77,0.78,0.79,0.81],"tickSize":-6,"labels":false,"domain":false,"title":null}},
      "order":{"field":"i","type":"quantitative"}}},
    {"data":{"name":"pts"},"mark":{"type":"circle","size":55,"stroke":"black","strokeWidth":1,"opacity":1},
     "encoding":{"x":{"field":"x","type":"quantitative","scale":{"domain":[0.22,0.38],"nice":false,"zero":false},"axis":null},"y":{"field":"y","type":"quantitative","scale":{"domain":[0.6,0.82],"nice":false,"zero":false},"axis":null},
      "color":{"field":"w","type":"quantitative","scale":{"domain":[-1.5,-1.281,-1.052,-0.9],"range":["#0a0000","#ff0000","#ffff00","#ffffff"]},
        "legend":{"title":"w","orient":"none","legendX":718,"legendY":199,"direction":"vertical","gradientLength":85,"gradientThickness":17,"tickCount":3,"format":".1f","labelFontSize":20,"titleFontSize":18,"titleFontWeight":"normal","labelColor":"black","titleColor":"black","gradientStrokeColor":"black","gradientStrokeWidth":1,"labelOffset":6,"titleAnchor":"end","titlePadding":2,"labelOverlap":false}}}},
    {"data":{"name":"txt"},"transform":[{"filter":"datum.p==='tc' && datum.k==='lab'"}],"mark":{"type":"text","fontSize":26,"align":"center","baseline":"middle","color":"black"},"encoding":{"x":{"field":"x","type":"quantitative","scale":{"domain":[0.22,0.38],"nice":false,"zero":false},"axis":null},"y":{"field":"y","type":"quantitative","scale":{"domain":[0.6,0.82],"nice":false,"zero":false},"axis":null},"text":{"field":"t","type":"nominal"}}}
   ]}
 ], "spacing": 43.5, "bounds": "flush"},
 {"hconcat": [
  {"width":273,"height":274,
   "data":{"name":"poly"},
   "resolve":{"axis":{"x":"independent","y":"independent"}},
   "layer":[
    {"transform":[{"filter":"datum.id==='ba_sn2'"}],"mark":{"type":"line","interpolate":"cardinal-closed","fill":"#aef0ae","fillOpacity":1,"stroke":"#555555","strokeOpacity":0.7,"strokeWidth":1.3,"clip":true},
     "encoding":{"x":{"field":"x","type":"quantitative","scale":{"domain":[0.15,0.5],"nice":false,"zero":false},"axis":{"orient":"bottom","values":[0.2,0.3,0.4,0.5],"format":".1f","tickSize":-9,"labelPadding":15,"labelFontSize":16,"domain":true,"title":"Ωₘ","titleFont":"DejaVu Serif","titleFontSize":25,"titleY":36,"titleBaseline":"middle"}},
      "y":{"field":"y","type":"quantitative","scale":{"domain":[0.5,0.85],"nice":false,"zero":false},"axis":{"orient":"left","values":[0.5,0.6,0.7,0.8],"format":".1f","tickSize":-9,"labelPadding":15,"labelFontSize":16,"domain":true,"title":"ΩΛ","titleFont":"DejaVu Serif","titleFontSize":25,"titleAngle":0,"titleX":-49,"titleY":139,"titleAlign":"center","titleBaseline":"middle"}},
      "order":{"field":"i","type":"quantitative"}}},
    {"transform":[{"filter":"datum.id==='ba_sn1'"}],"mark":{"type":"line","interpolate":"cardinal-closed","fill":"#4aa64a","fillOpacity":1,"stroke":"#555555","strokeOpacity":0.7,"strokeWidth":1.3,"clip":true},
     "encoding":{"x":{"field":"x","type":"quantitative","scale":{"domain":[0.15,0.5],"nice":false,"zero":false},"axis":{"orient":"bottom","values":[0.16,0.18,0.22,0.24,0.26,0.28,0.32,0.34,0.36,0.38,0.42,0.44,0.46,0.48],"tickSize":-5,"labels":false,"domain":false,"title":null}},
      "y":{"field":"y","type":"quantitative","scale":{"domain":[0.5,0.85],"nice":false,"zero":false},"axis":{"orient":"left","values":[0.52,0.54,0.56,0.58,0.62,0.64,0.66,0.68,0.72,0.74,0.76,0.78,0.82,0.84],"tickSize":-5,"labels":false,"domain":false,"title":null}},
      "order":{"field":"i","type":"quantitative"}}},
    {"transform":[{"filter":"datum.id==='ba_cmb2'"}],"mark":{"type":"line","interpolate":"cardinal-closed","fill":"#c3d0e6","fillOpacity":0.8,"stroke":"#555555","strokeOpacity":0.8,"strokeWidth":1.3,"clip":true},
     "encoding":{"x":{"field":"x","type":"quantitative","scale":{"domain":[0.15,0.5],"nice":false,"zero":false},"axis":{"orient":"top","values":[0.2,0.3,0.4],"tickSize":-9,"labels":false,"domain":true,"title":null}},
      "y":{"field":"y","type":"quantitative","scale":{"domain":[0.5,0.85],"nice":false,"zero":false},"axis":{"orient":"right","values":[0.6,0.7,0.8],"tickSize":-9,"labels":false,"domain":true,"title":null}},
      "order":{"field":"i","type":"quantitative"}}},
    {"transform":[{"filter":"datum.id==='ba_cmb1'"}],"mark":{"type":"line","interpolate":"cardinal-closed","fill":"#5a4899","fillOpacity":0.75,"stroke":"#555555","strokeOpacity":0.8,"strokeWidth":1.3,"clip":true},
     "encoding":{"x":{"field":"x","type":"quantitative","scale":{"domain":[0.15,0.5],"nice":false,"zero":false},"axis":{"orient":"top","values":[0.16,0.18,0.22,0.24,0.26,0.28,0.32,0.34,0.36,0.38,0.42,0.44,0.46,0.48],"tickSize":-5,"labels":false,"domain":false,"title":null}},
      "y":{"field":"y","type":"quantitative","scale":{"domain":[0.5,0.85],"nice":false,"zero":false},"axis":{"orient":"right","values":[0.52,0.54,0.56,0.58,0.62,0.64,0.66,0.68,0.72,0.74,0.76,0.78,0.82,0.84],"tickSize":-5,"labels":false,"domain":false,"title":null}},
      "order":{"field":"i","type":"quantitative"}}},
    {"transform":[{"filter":"datum.id==='ba_cb2'"}],"mark":{"type":"line","interpolate":"cardinal-closed","fill":"#ece08e","fillOpacity":0.75,"stroke":"#555555","strokeOpacity":0.8,"strokeWidth":1.3,"clip":true},"encoding":{"x":{"field":"x","type":"quantitative","scale":{"domain":[0.15,0.5],"nice":false,"zero":false},"axis":{"orient":"bottom","values":[0.2,0.3,0.4],"tickSize":4,"labels":false,"domain":false,"title":null}},"y":{"field":"y","type":"quantitative","scale":{"domain":[0.5,0.85],"nice":false,"zero":false},"axis":{"orient":"left","values":[0.6,0.7,0.8],"tickSize":4,"labels":false,"domain":false,"title":null}},"order":{"field":"i","type":"quantitative"}}},
    {"transform":[{"filter":"datum.id==='ba_cbs2'"}],"mark":{"type":"line","interpolate":"cardinal-closed","fill":"#8a8a7e","fillOpacity":0.8,"stroke":"#555555","strokeOpacity":0.8,"strokeWidth":1.3,"clip":true},"encoding":{"x":{"field":"x","type":"quantitative","scale":{"domain":[0.15,0.5],"nice":false,"zero":false},"axis":{"orient":"top","values":[0.2,0.3,0.4],"tickSize":4,"labels":false,"domain":false,"title":null}},"y":{"field":"y","type":"quantitative","scale":{"domain":[0.5,0.85],"nice":false,"zero":false},"axis":{"orient":"right","values":[0.6,0.7,0.8],"tickSize":4,"labels":false,"domain":false,"title":null}},"order":{"field":"i","type":"quantitative"}}},
    {"transform":[{"filter":"datum.id==='ba_cbs1'"}],"mark":{"type":"line","interpolate":"cardinal-closed","fill":"#2f2d08","fillOpacity":0.85,"stroke":"#555555","strokeOpacity":0.8,"strokeWidth":1.3,"clip":true},"encoding":{"x":{"field":"x","type":"quantitative","scale":{"domain":[0.15,0.5],"nice":false,"zero":false},"axis":null},"y":{"field":"y","type":"quantitative","scale":{"domain":[0.5,0.85],"nice":false,"zero":false},"axis":null},"order":{"field":"i","type":"quantitative"}}},
    {"data":{"name":"rules"},"transform":[{"filter":"datum.p==='ba' && datum.k==='d'"}],"mark":{"type":"rule","color":"black","strokeWidth":1.3,"strokeDash":[6,4]},"encoding":{"x":{"field":"x","type":"quantitative","scale":{"domain":[0.15,0.5],"nice":false,"zero":false},"axis":null},"y":{"field":"y","type":"quantitative","scale":{"domain":[0.5,0.85],"nice":false,"zero":false},"axis":null},"x2":{"field":"x2"},"y2":{"field":"y2"}}},
    {"data":{"name":"rules"},"transform":[{"filter":"datum.p==='ba' && datum.k==='l'"}],"mark":{"type":"rule","color":"black","strokeWidth":1.8},"encoding":{"x":{"field":"x","type":"quantitative","scale":{"domain":[0.15,0.5],"nice":false,"zero":false},"axis":null},"y":{"field":"y","type":"quantitative","scale":{"domain":[0.5,0.85],"nice":false,"zero":false},"axis":null},"x2":{"field":"x2"},"y2":{"field":"y2"}}},
    {"data":{"name":"txt"},"transform":[{"filter":"datum.p==='ba' && datum.k==='annL'"}],"mark":{"type":"text","fontSize":19,"align":"left","baseline":"middle","color":"black"},"encoding":{"x":{"field":"x","type":"quantitative","scale":{"domain":[0.15,0.5],"nice":false,"zero":false},"axis":null},"y":{"field":"y","type":"quantitative","scale":{"domain":[0.5,0.85],"nice":false,"zero":false},"axis":null},"text":{"field":"t","type":"nominal"}}},
    {"data":{"name":"txt"},"transform":[{"filter":"datum.p==='ba' && datum.k==='wC'"}],"mark":{"type":"text","fontSize":19,"align":"center","baseline":"middle","color":"white"},"encoding":{"x":{"field":"x","type":"quantitative","scale":{"domain":[0.15,0.5],"nice":false,"zero":false},"axis":null},"y":{"field":"y","type":"quantitative","scale":{"domain":[0.5,0.85],"nice":false,"zero":false},"axis":null},"text":{"field":"t","type":"nominal"}}},
    {"data":{"name":"txt"},"transform":[{"filter":"datum.p==='ba' && datum.k==='lab'"}],"mark":{"type":"text","fontSize":26,"align":"center","baseline":"middle","color":"black"},"encoding":{"x":{"field":"x","type":"quantitative","scale":{"domain":[0.15,0.5],"nice":false,"zero":false},"axis":null},"y":{"field":"y","type":"quantitative","scale":{"domain":[0.5,0.85],"nice":false,"zero":false},"axis":null},"text":{"field":"t","type":"nominal"}}}
   ]},
  {"width":273,"height":274,
   "data":{"name":"poly"},
   "resolve":{"axis":{"x":"independent","y":"independent"}},
   "layer":[
    {"transform":[{"filter":"datum.id==='bb_sn2'"}],"mark":{"type":"line","interpolate":"cardinal-closed","fill":"#aef0ae","fillOpacity":1,"stroke":"#555555","strokeOpacity":0.7,"strokeWidth":1.3,"clip":true},
     "encoding":{"x":{"field":"x","type":"quantitative","scale":{"domain":[0,0.5],"nice":false,"zero":false},"axis":{"orient":"bottom","values":[0,0.1,0.2,0.3,0.4,0.5],"format":".1f","tickSize":-9,"labelPadding":15,"labelFontSize":16,"domain":true,"title":"Ωₘ","titleFont":"DejaVu Serif","titleFontSize":25,"titleY":36,"titleBaseline":"middle"}},
      "y":{"field":"y","type":"quantitative","scale":{"domain":[-2,-0.5],"nice":false,"zero":false},"axis":{"orient":"left","values":[-1.5,-1,-0.5],"format":".1f","tickSize":-9,"labelPadding":15,"labelFontSize":16,"domain":true,"title":"w","titleFont":"DejaVu Serif","titleFontStyle":"italic","titleFontSize":26,"titleAngle":0,"titleX":-61,"titleY":139,"titleAlign":"center","titleBaseline":"middle"}},
      "order":{"field":"i","type":"quantitative"}}},
    {"transform":[{"filter":"datum.id==='bb_sn1'"}],"mark":{"type":"line","interpolate":"cardinal-closed","fill":"#4aa64a","fillOpacity":1,"stroke":"#555555","strokeOpacity":0.7,"strokeWidth":1.3,"clip":true},
     "encoding":{"x":{"field":"x","type":"quantitative","scale":{"domain":[0,0.5],"nice":false,"zero":false},"axis":{"orient":"bottom","values":[0.02,0.04,0.06,0.08,0.12,0.14,0.16,0.18,0.22,0.24,0.26,0.28,0.32,0.34,0.36,0.38,0.42,0.44,0.46,0.48],"tickSize":-5,"labels":false,"domain":false,"title":null}},
      "y":{"field":"y","type":"quantitative","scale":{"domain":[-2,-0.5],"nice":false,"zero":false},"axis":{"orient":"left","values":[-1.9,-1.8,-1.7,-1.6,-1.4,-1.3,-1.2,-1.1,-0.9,-0.8,-0.7,-0.6],"tickSize":-5,"labels":false,"domain":false,"title":null}},
      "order":{"field":"i","type":"quantitative"}}},
    {"transform":[{"filter":"datum.id==='bb_cmb2'"}],"mark":{"type":"line","interpolate":"cardinal-closed","fill":"#c3d0e6","fillOpacity":0.8,"stroke":"#555555","strokeOpacity":0.8,"strokeWidth":1.3,"clip":true},
     "encoding":{"x":{"field":"x","type":"quantitative","scale":{"domain":[0,0.5],"nice":false,"zero":false},"axis":{"orient":"top","values":[0.1,0.2,0.3,0.4],"tickSize":-9,"labels":false,"domain":true,"title":null}},
      "y":{"field":"y","type":"quantitative","scale":{"domain":[-2,-0.5],"nice":false,"zero":false},"axis":{"orient":"right","values":[-1.5,-1],"tickSize":-9,"labels":false,"domain":true,"title":null}},
      "order":{"field":"i","type":"quantitative"}}},
    {"transform":[{"filter":"datum.id==='bb_cmb1'"}],"mark":{"type":"line","interpolate":"cardinal-closed","fill":"#5a4899","fillOpacity":0.75,"stroke":"#555555","strokeOpacity":0.8,"strokeWidth":1.3,"clip":true},
     "encoding":{"x":{"field":"x","type":"quantitative","scale":{"domain":[0,0.5],"nice":false,"zero":false},"axis":{"orient":"top","values":[0.02,0.04,0.06,0.08,0.12,0.14,0.16,0.18,0.22,0.24,0.26,0.28,0.32,0.34,0.36,0.38,0.42,0.44,0.46,0.48],"tickSize":-5,"labels":false,"domain":false,"title":null}},
      "y":{"field":"y","type":"quantitative","scale":{"domain":[-2,-0.5],"nice":false,"zero":false},"axis":{"orient":"right","values":[-1.9,-1.8,-1.7,-1.6,-1.4,-1.3,-1.2,-1.1,-0.9,-0.8,-0.7,-0.6],"tickSize":-5,"labels":false,"domain":false,"title":null}},
      "order":{"field":"i","type":"quantitative"}}},
    {"transform":[{"filter":"datum.id==='bb_wb2' || datum.id==='bb_wb1'"}],"mark":{"type":"line","interpolate":"cardinal-closed","stroke":"#333333","strokeWidth":1.2,"strokeDash":[5,3],"clip":true},"encoding":{"x":{"field":"x","type":"quantitative","scale":{"domain":[0,0.5],"nice":false,"zero":false},"axis":null},"y":{"field":"y","type":"quantitative","scale":{"domain":[-2,-0.5],"nice":false,"zero":false},"axis":null},"detail":{"field":"id","type":"nominal"},"order":{"field":"i","type":"quantitative"}}},
    {"transform":[{"filter":"datum.id==='bb_cb2'"}],"mark":{"type":"line","interpolate":"cardinal-closed","fill":"#ece08e","fillOpacity":0.75,"stroke":"#555555","strokeOpacity":0.8,"strokeWidth":1.3,"clip":true},"encoding":{"x":{"field":"x","type":"quantitative","scale":{"domain":[0,0.5],"nice":false,"zero":false},"axis":{"orient":"bottom","values":[0.1,0.2,0.3,0.4],"tickSize":4,"labels":false,"domain":false,"title":null}},"y":{"field":"y","type":"quantitative","scale":{"domain":[-2,-0.5],"nice":false,"zero":false},"axis":{"orient":"left","values":[-1.5,-1],"tickSize":4,"labels":false,"domain":false,"title":null}},"order":{"field":"i","type":"quantitative"}}},
    {"transform":[{"filter":"datum.id==='bb_cbs2'"}],"mark":{"type":"line","interpolate":"cardinal-closed","fill":"#8a8a7e","fillOpacity":0.8,"stroke":"#555555","strokeOpacity":0.8,"strokeWidth":1.3,"clip":true},"encoding":{"x":{"field":"x","type":"quantitative","scale":{"domain":[0,0.5],"nice":false,"zero":false},"axis":{"orient":"top","values":[0.1,0.2,0.3,0.4],"tickSize":4,"labels":false,"domain":false,"title":null}},"y":{"field":"y","type":"quantitative","scale":{"domain":[-2,-0.5],"nice":false,"zero":false},"axis":{"orient":"right","values":[-1.5,-1],"tickSize":4,"labels":false,"domain":false,"title":null}},"order":{"field":"i","type":"quantitative"}}},
    {"transform":[{"filter":"datum.id==='bb_cbs1'"}],"mark":{"type":"line","interpolate":"cardinal-closed","fill":"#2f2d08","fillOpacity":0.85,"stroke":"#555555","strokeOpacity":0.8,"strokeWidth":1.3,"clip":true},"encoding":{"x":{"field":"x","type":"quantitative","scale":{"domain":[0,0.5],"nice":false,"zero":false},"axis":null},"y":{"field":"y","type":"quantitative","scale":{"domain":[-2,-0.5],"nice":false,"zero":false},"axis":null},"order":{"field":"i","type":"quantitative"}}},
    {"transform":[{"filter":"datum.id==='bb_py'"}],"mark":{"type":"line","interpolate":"cardinal","stroke":"#ffd200","strokeWidth":4.5,"clip":true},"encoding":{"x":{"field":"x","type":"quantitative","scale":{"domain":[0,0.5],"nice":false,"zero":false},"axis":null},"y":{"field":"y","type":"quantitative","scale":{"domain":[-2,-0.5],"nice":false,"zero":false},"axis":null},"order":{"field":"i","type":"quantitative"}}},
    {"transform":[{"filter":"datum.id==='bb_pk'"}],"mark":{"type":"line","interpolate":"cardinal","stroke":"black","strokeWidth":3.5,"clip":true},"encoding":{"x":{"field":"x","type":"quantitative","scale":{"domain":[0,0.5],"nice":false,"zero":false},"axis":null},"y":{"field":"y","type":"quantitative","scale":{"domain":[-2,-0.5],"nice":false,"zero":false},"axis":null},"order":{"field":"i","type":"quantitative"}}},
    {"transform":[{"filter":"datum.id==='bb_pd'"}],"mark":{"type":"line","interpolate":"cardinal","stroke":"black","strokeWidth":1.2,"strokeDash":[5,3],"clip":true},"encoding":{"x":{"field":"x","type":"quantitative","scale":{"domain":[0,0.5],"nice":false,"zero":false},"axis":null},"y":{"field":"y","type":"quantitative","scale":{"domain":[-2,-0.5],"nice":false,"zero":false},"axis":null},"order":{"field":"i","type":"quantitative"}}},
    {"data":{"name":"rules"},"transform":[{"filter":"datum.p==='bb'"}],"mark":{"type":"rule","color":"black","strokeWidth":1.8},"encoding":{"x":{"field":"x","type":"quantitative","scale":{"domain":[0,0.5],"nice":false,"zero":false},"axis":null},"y":{"field":"y","type":"quantitative","scale":{"domain":[-2,-0.5],"nice":false,"zero":false},"axis":null},"x2":{"field":"x2"},"y2":{"field":"y2"}}},
    {"data":{"name":"txt"},"transform":[{"filter":"datum.p==='bb' && datum.k==='annL'"}],"mark":{"type":"text","fontSize":19,"align":"left","baseline":"middle","color":"black"},"encoding":{"x":{"field":"x","type":"quantitative","scale":{"domain":[0,0.5],"nice":false,"zero":false},"axis":null},"y":{"field":"y","type":"quantitative","scale":{"domain":[-2,-0.5],"nice":false,"zero":false},"axis":null},"text":{"field":"t","type":"nominal"}}},
    {"data":{"name":"txt"},"transform":[{"filter":"datum.p==='bb' && datum.k==='annC'"}],"mark":{"type":"text","fontSize":19,"align":"center","baseline":"middle","color":"black"},"encoding":{"x":{"field":"x","type":"quantitative","scale":{"domain":[0,0.5],"nice":false,"zero":false},"axis":null},"y":{"field":"y","type":"quantitative","scale":{"domain":[-2,-0.5],"nice":false,"zero":false},"axis":null},"text":{"field":"t","type":"nominal"}}},
    {"data":{"name":"txt"},"transform":[{"filter":"datum.p==='bb' && datum.k==='wm'"}],"mark":{"type":"text","fontSize":17,"align":"center","baseline":"middle","color":"black"},"encoding":{"x":{"field":"x","type":"quantitative","scale":{"domain":[0,0.5],"nice":false,"zero":false},"axis":null},"y":{"field":"y","type":"quantitative","scale":{"domain":[-2,-0.5],"nice":false,"zero":false},"axis":null},"text":{"field":"t","type":"nominal"}}},
    {"data":{"name":"txt"},"transform":[{"filter":"datum.p==='bb' && datum.k==='wC'"}],"mark":{"type":"text","fontSize":19,"align":"center","baseline":"middle","color":"white"},"encoding":{"x":{"field":"x","type":"quantitative","scale":{"domain":[0,0.5],"nice":false,"zero":false},"axis":null},"y":{"field":"y","type":"quantitative","scale":{"domain":[-2,-0.5],"nice":false,"zero":false},"axis":null},"text":{"field":"t","type":"nominal"}}},
    {"data":{"name":"txt"},"transform":[{"filter":"datum.p==='bb' && datum.k==='lab'"}],"mark":{"type":"text","fontSize":26,"align":"center","baseline":"middle","color":"black"},"encoding":{"x":{"field":"x","type":"quantitative","scale":{"domain":[0,0.5],"nice":false,"zero":false},"axis":null},"y":{"field":"y","type":"quantitative","scale":{"domain":[-2,-0.5],"nice":false,"zero":false},"axis":null},"text":{"field":"t","type":"nominal"}}}
   ]},
  {"width":274,"height":274,
   "data":{"name":"poly"},
   "resolve":{"axis":{"x":"independent","y":"independent"}},
   "layer":[
    {"transform":[{"filter":"datum.id==='bc_sn2'"}],"mark":{"type":"line","interpolate":"cardinal-closed","fill":"#aef0ae","fillOpacity":1,"stroke":"#555555","strokeOpacity":0.7,"strokeWidth":1.3,"clip":true},
     "encoding":{"x":{"field":"x","type":"quantitative","scale":{"domain":[-2,-0.5],"nice":false,"zero":false},"axis":{"orient":"bottom","values":[-2,-1.5,-1],"format":".1f","tickSize":-9,"labelPadding":15,"labelFontSize":16,"domain":true,"title":"w(z = 0.5)","titleFont":"DejaVu Serif","titleFontStyle":"italic","titleFontSize":24,"titleY":36,"titleBaseline":"middle"}},
      "y":{"field":"y","type":"quantitative","scale":{"domain":[-1.5,1.5],"nice":false,"zero":false},"axis":{"orient":"left","values":[-1,0,1],"format":"d","tickSize":-9,"labelPadding":15,"labelFontSize":16,"domain":true,"title":"wₐ","titleFont":"DejaVu Serif","titleFontStyle":"italic","titleFontSize":26,"titleAngle":0,"titleX":-48,"titleY":139,"titleAlign":"center","titleBaseline":"middle"}},
      "order":{"field":"i","type":"quantitative"}}},
    {"transform":[{"filter":"datum.id==='bc_sn1'"}],"mark":{"type":"line","interpolate":"cardinal-closed","fill":"#4aa64a","fillOpacity":1,"stroke":"#555555","strokeOpacity":0.7,"strokeWidth":1.3,"clip":true},
     "encoding":{"x":{"field":"x","type":"quantitative","scale":{"domain":[-2,-0.5],"nice":false,"zero":false},"axis":{"orient":"bottom","values":[-1.9,-1.8,-1.7,-1.6,-1.4,-1.3,-1.2,-1.1,-0.9,-0.8,-0.7,-0.6],"tickSize":-5,"labels":false,"domain":false,"title":null}},
      "y":{"field":"y","type":"quantitative","scale":{"domain":[-1.5,1.5],"nice":false,"zero":false},"axis":{"orient":"left","values":[-1.4,-1.2,-0.8,-0.6,-0.4,-0.2,0.2,0.4,0.6,0.8,1.2,1.4],"tickSize":-5,"labels":false,"domain":false,"title":null}},
      "order":{"field":"i","type":"quantitative"}}},
    {"transform":[{"filter":"datum.id==='bc_cb2'"}],"mark":{"type":"line","interpolate":"cardinal-closed","fill":"#f4f0a0","fillOpacity":0.7,"stroke":"#555555","strokeOpacity":0.8,"strokeWidth":1.3,"clip":true},
     "encoding":{"x":{"field":"x","type":"quantitative","scale":{"domain":[-2,-0.5],"nice":false,"zero":false},"axis":{"orient":"top","values":[-1.5,-1],"tickSize":-9,"labels":false,"domain":true,"title":null}},
      "y":{"field":"y","type":"quantitative","scale":{"domain":[-1.5,1.5],"nice":false,"zero":false},"axis":{"orient":"right","values":[-1,0,1],"tickSize":-9,"labels":false,"domain":true,"title":null}},
      "order":{"field":"i","type":"quantitative"}}},
    {"transform":[{"filter":"datum.id==='bc_cb1'"}],"mark":{"type":"line","interpolate":"cardinal-closed","fill":"#f0d000","fillOpacity":0.75,"stroke":"#555555","strokeOpacity":0.8,"strokeWidth":1.3,"clip":true},
     "encoding":{"x":{"field":"x","type":"quantitative","scale":{"domain":[-2,-0.5],"nice":false,"zero":false},"axis":{"orient":"top","values":[-1.9,-1.8,-1.7,-1.6,-1.4,-1.3,-1.2,-1.1,-0.9,-0.8,-0.7,-0.6],"tickSize":-5,"labels":false,"domain":false,"title":null}},
      "y":{"field":"y","type":"quantitative","scale":{"domain":[-1.5,1.5],"nice":false,"zero":false},"axis":{"orient":"right","values":[-1.4,-1.2,-0.8,-0.6,-0.4,-0.2,0.2,0.4,0.6,0.8,1.2,1.4],"tickSize":-5,"labels":false,"domain":false,"title":null}},
      "order":{"field":"i","type":"quantitative"}}},
    {"transform":[{"filter":"datum.id==='bc_cbs2'"}],"mark":{"type":"line","interpolate":"cardinal-closed","fill":"#8a8a7e","fillOpacity":0.8,"stroke":"#555555","strokeOpacity":0.8,"strokeWidth":1.3,"clip":true},"encoding":{"x":{"field":"x","type":"quantitative","scale":{"domain":[-2,-0.5],"nice":false,"zero":false},"axis":{"orient":"bottom","values":[-1.5,-1],"tickSize":4,"labels":false,"domain":false,"title":null}},"y":{"field":"y","type":"quantitative","scale":{"domain":[-1.5,1.5],"nice":false,"zero":false},"axis":{"orient":"left","values":[-1,0,1],"tickSize":4,"labels":false,"domain":false,"title":null}},"order":{"field":"i","type":"quantitative"}}},
    {"transform":[{"filter":"datum.id==='bc_cbs1'"}],"mark":{"type":"line","interpolate":"cardinal-closed","fill":"#2f2d08","fillOpacity":0.85,"stroke":"#555555","strokeOpacity":0.8,"strokeWidth":1.3,"clip":true},"encoding":{"x":{"field":"x","type":"quantitative","scale":{"domain":[-2,-0.5],"nice":false,"zero":false},"axis":{"orient":"top","values":[-1.5,-1],"tickSize":4,"labels":false,"domain":false,"title":null}},"y":{"field":"y","type":"quantitative","scale":{"domain":[-1.5,1.5],"nice":false,"zero":false},"axis":{"orient":"right","values":[-1,0,1],"tickSize":4,"labels":false,"domain":false,"title":null}},"order":{"field":"i","type":"quantitative"}}},
    {"data":{"name":"rules"},"transform":[{"filter":"datum.p==='bc'"}],"mark":{"type":"rule","color":"black","strokeWidth":1.8},"encoding":{"x":{"field":"x","type":"quantitative","scale":{"domain":[-2,-0.5],"nice":false,"zero":false},"axis":null},"y":{"field":"y","type":"quantitative","scale":{"domain":[-1.5,1.5],"nice":false,"zero":false},"axis":null},"x2":{"field":"x2"},"y2":{"field":"y2"}}},
    {"data":{"name":"txt"},"transform":[{"filter":"datum.p==='bc' && datum.k==='annL'"}],"mark":{"type":"text","fontSize":19,"align":"left","baseline":"middle","color":"black"},"encoding":{"x":{"field":"x","type":"quantitative","scale":{"domain":[-2,-0.5],"nice":false,"zero":false},"axis":null},"y":{"field":"y","type":"quantitative","scale":{"domain":[-1.5,1.5],"nice":false,"zero":false},"axis":null},"text":{"field":"t","type":"nominal"}}},
    {"data":{"name":"txt"},"transform":[{"filter":"datum.p==='bc' && datum.k==='wL'"}],"mark":{"type":"text","fontSize":19,"align":"left","baseline":"middle","color":"white"},"encoding":{"x":{"field":"x","type":"quantitative","scale":{"domain":[-2,-0.5],"nice":false,"zero":false},"axis":null},"y":{"field":"y","type":"quantitative","scale":{"domain":[-1.5,1.5],"nice":false,"zero":false},"axis":null},"text":{"field":"t","type":"nominal"}}},
    {"data":{"name":"txt"},"transform":[{"filter":"datum.p==='bc' && datum.k==='wC'"}],"mark":{"type":"text","fontSize":19,"align":"center","baseline":"middle","color":"white"},"encoding":{"x":{"field":"x","type":"quantitative","scale":{"domain":[-2,-0.5],"nice":false,"zero":false},"axis":null},"y":{"field":"y","type":"quantitative","scale":{"domain":[-1.5,1.5],"nice":false,"zero":false},"axis":null},"text":{"field":"t","type":"nominal"}}},
    {"data":{"name":"txt"},"transform":[{"filter":"datum.p==='bc' && datum.k==='labw'"}],"mark":{"type":"text","fontSize":26,"align":"center","baseline":"middle","color":"white"},"encoding":{"x":{"field":"x","type":"quantitative","scale":{"domain":[-2,-0.5],"nice":false,"zero":false},"axis":null},"y":{"field":"y","type":"quantitative","scale":{"domain":[-1.5,1.5],"nice":false,"zero":false},"axis":null},"text":{"field":"t","type":"nominal"}}}
   ]}
 ], "spacing": 101, "bounds": "flush"}
]
}
